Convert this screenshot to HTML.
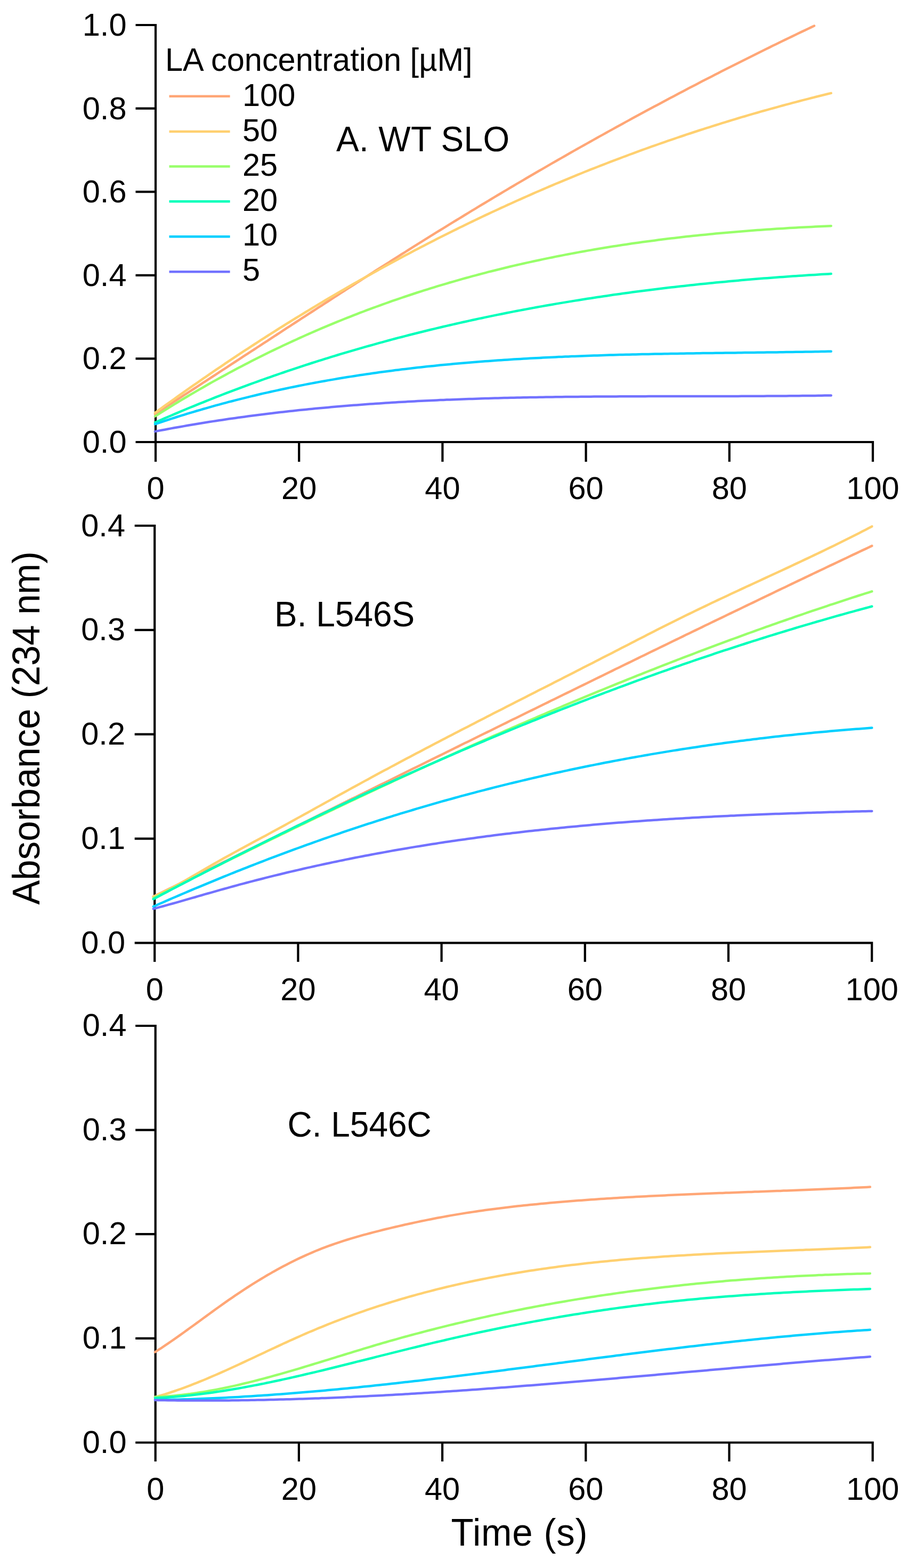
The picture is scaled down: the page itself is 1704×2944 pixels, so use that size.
<!DOCTYPE html>
<html><head><meta charset="utf-8"><title>Absorbance kinetics</title>
<style>
html,body{margin:0;padding:0;background:#fff;}
body{width:1704px;height:2944px;overflow:hidden;}
svg{display:block;}
.t{font-family:"Liberation Sans",sans-serif;font-size:59.5px;fill:#000;}
.h{font-family:"Liberation Sans",sans-serif;font-size:64px;fill:#000;}
.ax{font-family:"Liberation Sans",sans-serif;font-size:69px;fill:#000;}
</style></head>
<body>
<svg width="1704" height="2944" viewBox="0 0 1704 2944">
<rect width="1704" height="2944" fill="#fff"/>
<path d="M254.5,47.0 H292.0 V867.0" fill="none" stroke="#000" stroke-width="4.2" stroke-linejoin="miter"/>
<path d="M254.5,830.0 H1638.0 V867.0" fill="none" stroke="#000" stroke-width="4.2" stroke-linejoin="miter"/>
<path d="M254.5,203.6 H292.0" stroke="#000" stroke-width="4.2"/>
<path d="M254.5,360.2 H292.0" stroke="#000" stroke-width="4.2"/>
<path d="M254.5,516.8 H292.0" stroke="#000" stroke-width="4.2"/>
<path d="M254.5,673.4 H292.0" stroke="#000" stroke-width="4.2"/>
<path d="M561.2,830.0 V867.0" stroke="#000" stroke-width="4.2"/>
<path d="M830.4,830.0 V867.0" stroke="#000" stroke-width="4.2"/>
<path d="M1099.6,830.0 V867.0" stroke="#000" stroke-width="4.2"/>
<path d="M1368.8,830.0 V867.0" stroke="#000" stroke-width="4.2"/>
<text class="t" x="237.5" y="67.0" text-anchor="end">1.0</text>
<text class="t" x="237.5" y="223.6" text-anchor="end">0.8</text>
<text class="t" x="237.5" y="380.2" text-anchor="end">0.6</text>
<text class="t" x="237.5" y="536.8" text-anchor="end">0.4</text>
<text class="t" x="237.5" y="693.4" text-anchor="end">0.2</text>
<text class="t" x="237.5" y="850.0" text-anchor="end">0.0</text>
<text class="t" x="292.0" y="937.0" text-anchor="middle">0</text>
<text class="t" x="561.2" y="937.0" text-anchor="middle">20</text>
<text class="t" x="830.4" y="937.0" text-anchor="middle">40</text>
<text class="t" x="1099.6" y="937.0" text-anchor="middle">60</text>
<text class="t" x="1368.8" y="937.0" text-anchor="middle">80</text>
<text class="t" x="1638.0" y="937.0" text-anchor="middle">100</text>
<path d="M291.0,777.3 L297.0,773.4 L303.0,769.5 L309.0,765.6 L315.0,761.7 L321.0,757.8 L327.0,753.9 L333.0,750.0 L339.0,746.1 L345.0,742.2 L351.0,738.3 L357.1,734.4 L363.1,730.5 L369.1,726.6 L375.1,722.7 L381.1,718.7 L387.1,714.8 L393.1,710.9 L399.1,707.0 L405.1,703.1 L411.1,699.1 L417.1,695.2 L423.1,691.3 L429.1,687.4 L435.1,683.4 L441.1,679.5 L447.1,675.6 L453.1,671.7 L459.1,667.7 L465.1,663.8 L471.1,659.9 L477.2,656.0 L483.2,652.0 L489.2,648.1 L495.2,644.2 L501.2,640.3 L507.2,636.3 L513.2,632.4 L519.2,628.5 L525.2,624.6 L531.2,620.7 L537.2,616.7 L543.2,612.8 L549.2,608.9 L555.2,605.0 L561.2,601.1 L567.2,597.2 L573.2,593.3 L579.2,589.4 L585.2,585.5 L591.2,581.6 L597.2,577.7 L603.3,573.8 L609.3,569.9 L615.3,566.0 L621.3,562.1 L627.3,558.2 L633.3,554.3 L639.3,550.4 L645.3,546.6 L651.3,542.7 L657.3,538.8 L663.3,535.0 L669.3,531.1 L675.3,527.3 L681.3,523.4 L687.3,519.6 L693.3,515.7 L699.3,511.9 L705.3,508.0 L711.3,504.2 L717.3,500.4 L723.3,496.6 L729.4,492.8 L735.4,488.9 L741.4,485.1 L747.4,481.3 L753.4,477.5 L759.4,473.8 L765.4,470.0 L771.4,466.2 L777.4,462.4 L783.4,458.7 L789.4,454.9 L795.4,451.2 L801.4,447.4 L807.4,443.7 L813.4,439.9 L819.4,436.2 L825.4,432.5 L831.4,428.8 L837.4,425.1 L843.4,421.4 L849.5,417.7 L855.5,414.0 L861.5,410.3 L867.5,406.7 L873.5,403.0 L879.5,399.4 L885.5,395.7 L891.5,392.1 L897.5,388.4 L903.5,384.8 L909.5,381.2 L915.5,377.6 L921.5,374.0 L927.5,370.4 L933.5,366.8 L939.5,363.2 L945.5,359.6 L951.5,356.1 L957.5,352.5 L963.5,349.0 L969.5,345.4 L975.6,341.9 L981.6,338.4 L987.6,334.8 L993.6,331.3 L999.6,327.8 L1005.6,324.3 L1011.6,320.8 L1017.6,317.4 L1023.6,313.9 L1029.6,310.4 L1035.6,306.9 L1041.6,303.5 L1047.6,300.0 L1053.6,296.6 L1059.6,293.2 L1065.6,289.7 L1071.6,286.3 L1077.6,282.9 L1083.6,279.5 L1089.6,276.1 L1095.7,272.7 L1101.7,269.4 L1107.7,266.0 L1113.7,262.6 L1119.7,259.3 L1125.7,255.9 L1131.7,252.6 L1137.7,249.2 L1143.7,245.9 L1149.7,242.6 L1155.7,239.3 L1161.7,236.0 L1167.7,232.7 L1173.7,229.4 L1179.7,226.1 L1185.7,222.8 L1191.7,219.5 L1197.7,216.3 L1203.7,213.0 L1209.7,209.8 L1215.7,206.5 L1221.8,203.3 L1227.8,200.1 L1233.8,196.9 L1239.8,193.7 L1245.8,190.5 L1251.8,187.3 L1257.8,184.1 L1263.8,180.9 L1269.8,177.7 L1275.8,174.6 L1281.8,171.4 L1287.8,168.3 L1293.8,165.1 L1299.8,162.0 L1305.8,158.9 L1311.8,155.8 L1317.8,152.6 L1323.8,149.5 L1329.8,146.4 L1335.8,143.4 L1341.8,140.3 L1347.9,137.2 L1353.9,134.1 L1359.9,131.1 L1365.9,128.0 L1371.9,125.0 L1377.9,121.9 L1383.9,118.9 L1389.9,115.9 L1395.9,112.9 L1401.9,109.9 L1407.9,106.9 L1413.9,103.9 L1419.9,100.9 L1425.9,97.9 L1431.9,95.0 L1437.9,92.0 L1443.9,89.1 L1449.9,86.1 L1455.9,83.2 L1461.9,80.2 L1468.0,77.3 L1474.0,74.4 L1480.0,71.5 L1486.0,68.6 L1492.0,65.7 L1498.0,62.8 L1504.0,59.9 L1510.0,57.1 L1516.0,54.2 L1522.0,51.4 L1528.0,48.5" fill="none" stroke="#FFA676" stroke-width="4.5" stroke-linejoin="round" stroke-linecap="round"/>
<path d="M291.0,775.0 L297.0,770.6 L303.0,766.3 L309.0,761.9 L315.1,757.6 L321.1,753.3 L327.1,749.0 L333.1,744.7 L339.1,740.4 L345.1,736.1 L351.1,731.9 L357.1,727.7 L363.2,723.4 L369.2,719.3 L375.2,715.1 L381.2,710.9 L387.2,706.8 L393.2,702.6 L399.2,698.5 L405.2,694.4 L411.3,690.3 L417.3,686.3 L423.3,682.2 L429.3,678.2 L435.3,674.2 L441.3,670.2 L447.3,666.2 L453.3,662.2 L459.4,658.2 L465.4,654.3 L471.4,650.4 L477.4,646.5 L483.4,642.6 L489.4,638.7 L495.4,634.8 L501.4,631.0 L507.5,627.1 L513.5,623.3 L519.5,619.5 L525.5,615.7 L531.5,612.0 L537.5,608.2 L543.5,604.5 L549.6,600.7 L555.6,597.0 L561.6,593.3 L567.6,589.7 L573.6,586.0 L579.6,582.3 L585.6,578.7 L591.6,575.1 L597.7,571.5 L603.7,567.9 L609.7,564.3 L615.7,560.8 L621.7,557.2 L627.7,553.7 L633.7,550.2 L639.7,546.7 L645.8,543.2 L651.8,539.7 L657.8,536.3 L663.8,532.8 L669.8,529.4 L675.8,526.0 L681.8,522.6 L687.8,519.2 L693.9,515.9 L699.9,512.5 L705.9,509.2 L711.9,505.9 L717.9,502.6 L723.9,499.3 L729.9,496.0 L735.9,492.7 L742.0,489.5 L748.0,486.3 L754.0,483.0 L760.0,479.8 L766.0,476.7 L772.0,473.5 L778.0,470.3 L784.0,467.2 L790.1,464.0 L796.1,460.9 L802.1,457.8 L808.1,454.7 L814.1,451.7 L820.1,448.6 L826.1,445.6 L832.2,442.5 L838.2,439.5 L844.2,436.5 L850.2,433.5 L856.2,430.6 L862.2,427.6 L868.2,424.7 L874.2,421.7 L880.3,418.8 L886.3,415.9 L892.3,413.0 L898.3,410.1 L904.3,407.3 L910.3,404.4 L916.3,401.6 L922.3,398.8 L928.4,396.0 L934.4,393.2 L940.4,390.4 L946.4,387.7 L952.4,384.9 L958.4,382.2 L964.4,379.5 L970.4,376.7 L976.5,374.1 L982.5,371.4 L988.5,368.7 L994.5,366.1 L1000.5,363.4 L1006.5,360.8 L1012.5,358.2 L1018.5,355.6 L1024.6,353.0 L1030.6,350.4 L1036.6,347.9 L1042.6,345.3 L1048.6,342.8 L1054.6,340.3 L1060.6,337.8 L1066.7,335.3 L1072.7,332.8 L1078.7,330.4 L1084.7,327.9 L1090.7,325.5 L1096.7,323.0 L1102.7,320.6 L1108.7,318.2 L1114.8,315.9 L1120.8,313.5 L1126.8,311.1 L1132.8,308.8 L1138.8,306.5 L1144.8,304.1 L1150.8,301.8 L1156.8,299.6 L1162.9,297.3 L1168.9,295.0 L1174.9,292.8 L1180.9,290.5 L1186.9,288.3 L1192.9,286.1 L1198.9,283.9 L1204.9,281.7 L1211.0,279.5 L1217.0,277.4 L1223.0,275.2 L1229.0,273.1 L1235.0,271.0 L1241.0,268.9 L1247.0,266.8 L1253.0,264.7 L1259.1,262.6 L1265.1,260.6 L1271.1,258.5 L1277.1,256.5 L1283.1,254.5 L1289.1,252.4 L1295.1,250.5 L1301.1,248.5 L1307.2,246.5 L1313.2,244.5 L1319.2,242.6 L1325.2,240.7 L1331.2,238.8 L1337.2,236.8 L1343.2,235.0 L1349.3,233.1 L1355.3,231.2 L1361.3,229.3 L1367.3,227.5 L1373.3,225.7 L1379.3,223.8 L1385.3,222.0 L1391.3,220.2 L1397.4,218.5 L1403.4,216.7 L1409.4,214.9 L1415.4,213.2 L1421.4,211.5 L1427.4,209.7 L1433.4,208.0 L1439.4,206.3 L1445.5,204.6 L1451.5,203.0 L1457.5,201.3 L1463.5,199.7 L1469.5,198.0 L1475.5,196.4 L1481.5,194.8 L1487.5,193.2 L1493.6,191.6 L1499.6,190.0 L1505.6,188.4 L1511.6,186.9 L1517.6,185.3 L1523.6,183.8 L1529.6,182.3 L1535.6,180.8 L1541.7,179.3 L1547.7,177.8 L1553.7,176.3 L1559.7,174.9" fill="none" stroke="#FFD070" stroke-width="4.5" stroke-linejoin="round" stroke-linecap="round"/>
<path d="M291.0,781.7 L297.0,777.9 L303.0,774.1 L309.0,770.3 L315.1,766.6 L321.1,762.9 L327.1,759.2 L333.1,755.5 L339.1,751.9 L345.1,748.3 L351.1,744.7 L357.1,741.1 L363.2,737.6 L369.2,734.1 L375.2,730.6 L381.2,727.2 L387.2,723.7 L393.2,720.3 L399.2,716.9 L405.2,713.6 L411.3,710.3 L417.3,707.0 L423.3,703.7 L429.3,700.4 L435.3,697.2 L441.3,694.0 L447.3,690.8 L453.3,687.7 L459.4,684.5 L465.4,681.4 L471.4,678.3 L477.4,675.3 L483.4,672.2 L489.4,669.2 L495.4,666.2 L501.4,663.3 L507.5,660.3 L513.5,657.4 L519.5,654.5 L525.5,651.7 L531.5,648.8 L537.5,646.0 L543.5,643.2 L549.6,640.4 L555.6,637.7 L561.6,634.9 L567.6,632.2 L573.6,629.5 L579.6,626.9 L585.6,624.2 L591.6,621.6 L597.7,619.0 L603.7,616.4 L609.7,613.9 L615.7,611.4 L621.7,608.9 L627.7,606.4 L633.7,603.9 L639.7,601.5 L645.8,599.0 L651.8,596.6 L657.8,594.3 L663.8,591.9 L669.8,589.6 L675.8,587.2 L681.8,585.0 L687.8,582.7 L693.9,580.4 L699.9,578.2 L705.9,576.0 L711.9,573.8 L717.9,571.6 L723.9,569.5 L729.9,567.3 L735.9,565.2 L742.0,563.1 L748.0,561.1 L754.0,559.0 L760.0,557.0 L766.0,555.0 L772.0,553.0 L778.0,551.0 L784.0,549.0 L790.1,547.1 L796.1,545.2 L802.1,543.3 L808.1,541.4 L814.1,539.6 L820.1,537.7 L826.1,535.9 L832.2,534.1 L838.2,532.3 L844.2,530.5 L850.2,528.8 L856.2,527.1 L862.2,525.4 L868.2,523.7 L874.2,522.0 L880.3,520.3 L886.3,518.7 L892.3,517.1 L898.3,515.5 L904.3,513.9 L910.3,512.3 L916.3,510.7 L922.3,509.2 L928.4,507.7 L934.4,506.2 L940.4,504.7 L946.4,503.2 L952.4,501.8 L958.4,500.3 L964.4,498.9 L970.4,497.5 L976.5,496.1 L982.5,494.8 L988.5,493.4 L994.5,492.1 L1000.5,490.8 L1006.5,489.5 L1012.5,488.2 L1018.5,486.9 L1024.6,485.6 L1030.6,484.4 L1036.6,483.2 L1042.6,481.9 L1048.6,480.7 L1054.6,479.6 L1060.6,478.4 L1066.7,477.2 L1072.7,476.1 L1078.7,475.0 L1084.7,473.9 L1090.7,472.8 L1096.7,471.7 L1102.7,470.6 L1108.7,469.6 L1114.8,468.5 L1120.8,467.5 L1126.8,466.5 L1132.8,465.5 L1138.8,464.5 L1144.8,463.5 L1150.8,462.6 L1156.8,461.7 L1162.9,460.7 L1168.9,459.8 L1174.9,458.9 L1180.9,458.0 L1186.9,457.1 L1192.9,456.3 L1198.9,455.4 L1204.9,454.6 L1211.0,453.8 L1217.0,453.0 L1223.0,452.2 L1229.0,451.4 L1235.0,450.6 L1241.0,449.8 L1247.0,449.1 L1253.0,448.3 L1259.1,447.6 L1265.1,446.9 L1271.1,446.2 L1277.1,445.5 L1283.1,444.8 L1289.1,444.1 L1295.1,443.5 L1301.1,442.8 L1307.2,442.2 L1313.2,441.6 L1319.2,441.0 L1325.2,440.4 L1331.2,439.8 L1337.2,439.2 L1343.2,438.6 L1349.3,438.0 L1355.3,437.5 L1361.3,437.0 L1367.3,436.4 L1373.3,435.9 L1379.3,435.4 L1385.3,434.9 L1391.3,434.4 L1397.4,433.9 L1403.4,433.4 L1409.4,433.0 L1415.4,432.5 L1421.4,432.1 L1427.4,431.7 L1433.4,431.2 L1439.4,430.8 L1445.5,430.4 L1451.5,430.0 L1457.5,429.6 L1463.5,429.2 L1469.5,428.9 L1475.5,428.5 L1481.5,428.1 L1487.5,427.8 L1493.6,427.5 L1499.6,427.1 L1505.6,426.8 L1511.6,426.5 L1517.6,426.2 L1523.6,425.9 L1529.6,425.6 L1535.6,425.3 L1541.7,425.0 L1547.7,424.7 L1553.7,424.5 L1559.7,424.2" fill="none" stroke="#98FF6A" stroke-width="4.5" stroke-linejoin="round" stroke-linecap="round"/>
<path d="M291.0,793.2 L297.0,790.6 L303.0,788.0 L309.0,785.4 L315.1,782.8 L321.1,780.2 L327.1,777.6 L333.1,775.1 L339.1,772.5 L345.1,770.0 L351.1,767.5 L357.1,765.0 L363.2,762.6 L369.2,760.1 L375.2,757.7 L381.2,755.3 L387.2,752.9 L393.2,750.5 L399.2,748.1 L405.2,745.7 L411.3,743.4 L417.3,741.0 L423.3,738.7 L429.3,736.4 L435.3,734.1 L441.3,731.8 L447.3,729.6 L453.3,727.3 L459.4,725.1 L465.4,722.9 L471.4,720.7 L477.4,718.5 L483.4,716.3 L489.4,714.2 L495.4,712.0 L501.4,709.9 L507.5,707.8 L513.5,705.7 L519.5,703.6 L525.5,701.5 L531.5,699.5 L537.5,697.4 L543.5,695.4 L549.6,693.4 L555.6,691.4 L561.6,689.4 L567.6,687.4 L573.6,685.4 L579.6,683.5 L585.6,681.5 L591.6,679.6 L597.7,677.7 L603.7,675.8 L609.7,673.9 L615.7,672.1 L621.7,670.2 L627.7,668.4 L633.7,666.5 L639.7,664.7 L645.8,662.9 L651.8,661.1 L657.8,659.3 L663.8,657.6 L669.8,655.8 L675.8,654.1 L681.8,652.4 L687.8,650.7 L693.9,649.0 L699.9,647.3 L705.9,645.6 L711.9,643.9 L717.9,642.3 L723.9,640.6 L729.9,639.0 L735.9,637.4 L742.0,635.8 L748.0,634.2 L754.0,632.7 L760.0,631.1 L766.0,629.5 L772.0,628.0 L778.0,626.5 L784.0,625.0 L790.1,623.5 L796.1,622.0 L802.1,620.5 L808.1,619.0 L814.1,617.6 L820.1,616.1 L826.1,614.7 L832.2,613.3 L838.2,611.9 L844.2,610.5 L850.2,609.1 L856.2,607.7 L862.2,606.4 L868.2,605.0 L874.2,603.7 L880.3,602.4 L886.3,601.0 L892.3,599.7 L898.3,598.4 L904.3,597.2 L910.3,595.9 L916.3,594.6 L922.3,593.4 L928.4,592.1 L934.4,590.9 L940.4,589.7 L946.4,588.5 L952.4,587.3 L958.4,586.1 L964.4,584.9 L970.4,583.8 L976.5,582.6 L982.5,581.5 L988.5,580.4 L994.5,579.2 L1000.5,578.1 L1006.5,577.0 L1012.5,575.9 L1018.5,574.9 L1024.6,573.8 L1030.6,572.7 L1036.6,571.7 L1042.6,570.6 L1048.6,569.6 L1054.6,568.6 L1060.6,567.6 L1066.7,566.6 L1072.7,565.6 L1078.7,564.6 L1084.7,563.7 L1090.7,562.7 L1096.7,561.8 L1102.7,560.8 L1108.7,559.9 L1114.8,559.0 L1120.8,558.1 L1126.8,557.2 L1132.8,556.3 L1138.8,555.4 L1144.8,554.5 L1150.8,553.6 L1156.8,552.8 L1162.9,551.9 L1168.9,551.1 L1174.9,550.3 L1180.9,549.5 L1186.9,548.6 L1192.9,547.8 L1198.9,547.1 L1204.9,546.3 L1211.0,545.5 L1217.0,544.7 L1223.0,544.0 L1229.0,543.2 L1235.0,542.5 L1241.0,541.8 L1247.0,541.0 L1253.0,540.3 L1259.1,539.6 L1265.1,538.9 L1271.1,538.2 L1277.1,537.6 L1283.1,536.9 L1289.1,536.2 L1295.1,535.6 L1301.1,534.9 L1307.2,534.3 L1313.2,533.6 L1319.2,533.0 L1325.2,532.4 L1331.2,531.8 L1337.2,531.2 L1343.2,530.6 L1349.3,530.0 L1355.3,529.4 L1361.3,528.9 L1367.3,528.3 L1373.3,527.8 L1379.3,527.2 L1385.3,526.7 L1391.3,526.1 L1397.4,525.6 L1403.4,525.1 L1409.4,524.6 L1415.4,524.1 L1421.4,523.6 L1427.4,523.1 L1433.4,522.6 L1439.4,522.2 L1445.5,521.7 L1451.5,521.2 L1457.5,520.8 L1463.5,520.3 L1469.5,519.9 L1475.5,519.5 L1481.5,519.0 L1487.5,518.6 L1493.6,518.2 L1499.6,517.8 L1505.6,517.4 L1511.6,517.0 L1517.6,516.6 L1523.6,516.2 L1529.6,515.9 L1535.6,515.5 L1541.7,515.1 L1547.7,514.8 L1553.7,514.4 L1559.7,514.1" fill="none" stroke="#00FFBB" stroke-width="4.5" stroke-linejoin="round" stroke-linecap="round"/>
<path d="M291.0,796.3 L297.0,794.3 L303.0,792.3 L309.0,790.3 L315.1,788.3 L321.1,786.4 L327.1,784.5 L333.1,782.5 L339.1,780.7 L345.1,778.8 L351.1,776.9 L357.1,775.1 L363.2,773.3 L369.2,771.5 L375.2,769.8 L381.2,768.0 L387.2,766.3 L393.2,764.6 L399.2,762.9 L405.2,761.2 L411.3,759.6 L417.3,757.9 L423.3,756.3 L429.3,754.7 L435.3,753.2 L441.3,751.6 L447.3,750.1 L453.3,748.6 L459.4,747.1 L465.4,745.6 L471.4,744.1 L477.4,742.7 L483.4,741.2 L489.4,739.8 L495.4,738.4 L501.4,737.1 L507.5,735.7 L513.5,734.4 L519.5,733.1 L525.5,731.7 L531.5,730.5 L537.5,729.2 L543.5,727.9 L549.6,726.7 L555.6,725.5 L561.6,724.3 L567.6,723.1 L573.6,721.9 L579.6,720.7 L585.6,719.6 L591.6,718.5 L597.7,717.4 L603.7,716.3 L609.7,715.2 L615.7,714.1 L621.7,713.1 L627.7,712.1 L633.7,711.0 L639.7,710.0 L645.8,709.0 L651.8,708.1 L657.8,707.1 L663.8,706.2 L669.8,705.2 L675.8,704.3 L681.8,703.4 L687.8,702.5 L693.9,701.7 L699.9,700.8 L705.9,699.9 L711.9,699.1 L717.9,698.3 L723.9,697.5 L729.9,696.7 L735.9,695.9 L742.0,695.1 L748.0,694.4 L754.0,693.6 L760.0,692.9 L766.0,692.2 L772.0,691.5 L778.0,690.8 L784.0,690.1 L790.1,689.4 L796.1,688.8 L802.1,688.1 L808.1,687.5 L814.1,686.9 L820.1,686.2 L826.1,685.6 L832.2,685.0 L838.2,684.5 L844.2,683.9 L850.2,683.3 L856.2,682.8 L862.2,682.3 L868.2,681.7 L874.2,681.2 L880.3,680.7 L886.3,680.2 L892.3,679.7 L898.3,679.2 L904.3,678.8 L910.3,678.3 L916.3,677.9 L922.3,677.4 L928.4,677.0 L934.4,676.6 L940.4,676.2 L946.4,675.8 L952.4,675.4 L958.4,675.0 L964.4,674.6 L970.4,674.2 L976.5,673.9 L982.5,673.5 L988.5,673.2 L994.5,672.8 L1000.5,672.5 L1006.5,672.2 L1012.5,671.9 L1018.5,671.6 L1024.6,671.3 L1030.6,671.0 L1036.6,670.7 L1042.6,670.4 L1048.6,670.1 L1054.6,669.9 L1060.6,669.6 L1066.7,669.4 L1072.7,669.1 L1078.7,668.9 L1084.7,668.7 L1090.7,668.4 L1096.7,668.2 L1102.7,668.0 L1108.7,667.8 L1114.8,667.6 L1120.8,667.4 L1126.8,667.2 L1132.8,667.0 L1138.8,666.8 L1144.8,666.6 L1150.8,666.5 L1156.8,666.3 L1162.9,666.1 L1168.9,666.0 L1174.9,665.8 L1180.9,665.7 L1186.9,665.5 L1192.9,665.4 L1198.9,665.2 L1204.9,665.1 L1211.0,665.0 L1217.0,664.9 L1223.0,664.7 L1229.0,664.6 L1235.0,664.5 L1241.0,664.4 L1247.0,664.3 L1253.0,664.2 L1259.1,664.1 L1265.1,664.0 L1271.1,663.9 L1277.1,663.8 L1283.1,663.7 L1289.1,663.6 L1295.1,663.5 L1301.1,663.4 L1307.2,663.3 L1313.2,663.2 L1319.2,663.1 L1325.2,663.0 L1331.2,663.0 L1337.2,662.9 L1343.2,662.8 L1349.3,662.7 L1355.3,662.7 L1361.3,662.6 L1367.3,662.5 L1373.3,662.4 L1379.3,662.4 L1385.3,662.3 L1391.3,662.2 L1397.4,662.1 L1403.4,662.1 L1409.4,662.0 L1415.4,661.9 L1421.4,661.8 L1427.4,661.8 L1433.4,661.7 L1439.4,661.6 L1445.5,661.5 L1451.5,661.4 L1457.5,661.4 L1463.5,661.3 L1469.5,661.2 L1475.5,661.1 L1481.5,661.0 L1487.5,660.9 L1493.6,660.8 L1499.6,660.8 L1505.6,660.7 L1511.6,660.6 L1517.6,660.5 L1523.6,660.4 L1529.6,660.3 L1535.6,660.2 L1541.7,660.1 L1547.7,659.9 L1553.7,659.8 L1559.7,659.7" fill="none" stroke="#00D0FF" stroke-width="4.5" stroke-linejoin="round" stroke-linecap="round"/>
<path d="M291.0,810.1 L297.0,808.9 L303.0,807.8 L309.0,806.7 L315.1,805.5 L321.1,804.4 L327.1,803.3 L333.1,802.2 L339.1,801.2 L345.1,800.1 L351.1,799.0 L357.1,798.0 L363.2,797.0 L369.2,796.0 L375.2,795.0 L381.2,794.0 L387.2,793.0 L393.2,792.1 L399.2,791.1 L405.2,790.2 L411.3,789.3 L417.3,788.4 L423.3,787.5 L429.3,786.6 L435.3,785.7 L441.3,784.9 L447.3,784.0 L453.3,783.2 L459.4,782.4 L465.4,781.6 L471.4,780.8 L477.4,780.0 L483.4,779.2 L489.4,778.5 L495.4,777.7 L501.4,777.0 L507.5,776.2 L513.5,775.5 L519.5,774.8 L525.5,774.1 L531.5,773.4 L537.5,772.7 L543.5,772.1 L549.6,771.4 L555.6,770.8 L561.6,770.1 L567.6,769.5 L573.6,768.9 L579.6,768.3 L585.6,767.7 L591.6,767.1 L597.7,766.5 L603.7,766.0 L609.7,765.4 L615.7,764.9 L621.7,764.3 L627.7,763.8 L633.7,763.3 L639.7,762.8 L645.8,762.3 L651.8,761.8 L657.8,761.3 L663.8,760.8 L669.8,760.4 L675.8,759.9 L681.8,759.5 L687.8,759.0 L693.9,758.6 L699.9,758.2 L705.9,757.8 L711.9,757.4 L717.9,757.0 L723.9,756.6 L729.9,756.2 L735.9,755.8 L742.0,755.5 L748.0,755.1 L754.0,754.8 L760.0,754.4 L766.0,754.1 L772.0,753.8 L778.0,753.5 L784.0,753.1 L790.1,752.8 L796.1,752.5 L802.1,752.2 L808.1,752.0 L814.1,751.7 L820.1,751.4 L826.1,751.1 L832.2,750.9 L838.2,750.6 L844.2,750.4 L850.2,750.2 L856.2,749.9 L862.2,749.7 L868.2,749.5 L874.2,749.3 L880.3,749.1 L886.3,748.9 L892.3,748.7 L898.3,748.5 L904.3,748.3 L910.3,748.1 L916.3,747.9 L922.3,747.8 L928.4,747.6 L934.4,747.4 L940.4,747.3 L946.4,747.1 L952.4,747.0 L958.4,746.8 L964.4,746.7 L970.4,746.6 L976.5,746.5 L982.5,746.3 L988.5,746.2 L994.5,746.1 L1000.5,746.0 L1006.5,745.9 L1012.5,745.8 L1018.5,745.7 L1024.6,745.6 L1030.6,745.5 L1036.6,745.4 L1042.6,745.3 L1048.6,745.3 L1054.6,745.2 L1060.6,745.1 L1066.7,745.0 L1072.7,745.0 L1078.7,744.9 L1084.7,744.9 L1090.7,744.8 L1096.7,744.8 L1102.7,744.7 L1108.7,744.7 L1114.8,744.6 L1120.8,744.6 L1126.8,744.5 L1132.8,744.5 L1138.8,744.4 L1144.8,744.4 L1150.8,744.4 L1156.8,744.4 L1162.9,744.3 L1168.9,744.3 L1174.9,744.3 L1180.9,744.3 L1186.9,744.2 L1192.9,744.2 L1198.9,744.2 L1204.9,744.2 L1211.0,744.2 L1217.0,744.1 L1223.0,744.1 L1229.0,744.1 L1235.0,744.1 L1241.0,744.1 L1247.0,744.1 L1253.0,744.1 L1259.1,744.1 L1265.1,744.1 L1271.1,744.0 L1277.1,744.0 L1283.1,744.0 L1289.1,744.0 L1295.1,744.0 L1301.1,744.0 L1307.2,744.0 L1313.2,744.0 L1319.2,744.0 L1325.2,744.0 L1331.2,744.0 L1337.2,744.0 L1343.2,744.0 L1349.3,743.9 L1355.3,743.9 L1361.3,743.9 L1367.3,743.9 L1373.3,743.9 L1379.3,743.9 L1385.3,743.9 L1391.3,743.8 L1397.4,743.8 L1403.4,743.8 L1409.4,743.8 L1415.4,743.7 L1421.4,743.7 L1427.4,743.7 L1433.4,743.7 L1439.4,743.6 L1445.5,743.6 L1451.5,743.6 L1457.5,743.5 L1463.5,743.5 L1469.5,743.4 L1475.5,743.4 L1481.5,743.3 L1487.5,743.3 L1493.6,743.2 L1499.6,743.2 L1505.6,743.1 L1511.6,743.1 L1517.6,743.0 L1523.6,742.9 L1529.6,742.9 L1535.6,742.8 L1541.7,742.7 L1547.7,742.6 L1553.7,742.5 L1559.7,742.5" fill="none" stroke="#7272FF" stroke-width="4.5" stroke-linejoin="round" stroke-linecap="round"/>
<path d="M252.7,987.0 H290.2 V1805.9" fill="none" stroke="#000" stroke-width="4.2" stroke-linejoin="miter"/>
<path d="M252.7,1770.4 H1636.2 V1805.9" fill="none" stroke="#000" stroke-width="4.2" stroke-linejoin="miter"/>
<path d="M252.7,1182.8 H290.2" stroke="#000" stroke-width="4.2"/>
<path d="M252.7,1378.7 H290.2" stroke="#000" stroke-width="4.2"/>
<path d="M252.7,1574.6 H290.2" stroke="#000" stroke-width="4.2"/>
<path d="M559.4,1770.4 V1805.9" stroke="#000" stroke-width="4.2"/>
<path d="M828.6,1770.4 V1805.9" stroke="#000" stroke-width="4.2"/>
<path d="M1097.8,1770.4 V1805.9" stroke="#000" stroke-width="4.2"/>
<path d="M1367.0,1770.4 V1805.9" stroke="#000" stroke-width="4.2"/>
<text class="t" x="235" y="1006.5" text-anchor="end">0.4</text>
<text class="t" x="235" y="1202.3" text-anchor="end">0.3</text>
<text class="t" x="235" y="1398.2" text-anchor="end">0.2</text>
<text class="t" x="235" y="1594.1" text-anchor="end">0.1</text>
<text class="t" x="235" y="1789.9" text-anchor="end">0.0</text>
<text class="t" x="290.2" y="1878.4" text-anchor="middle">0</text>
<text class="t" x="559.4" y="1878.4" text-anchor="middle">20</text>
<text class="t" x="828.6" y="1878.4" text-anchor="middle">40</text>
<text class="t" x="1097.8" y="1878.4" text-anchor="middle">60</text>
<text class="t" x="1367.0" y="1878.4" text-anchor="middle">80</text>
<text class="t" x="1636.2" y="1878.4" text-anchor="middle">100</text>
<path d="M287.8,1683.3 L293.8,1680.4 L299.8,1677.5 L305.9,1674.5 L311.9,1671.6 L317.9,1668.6 L323.9,1665.7 L329.9,1662.7 L336.0,1659.7 L342.0,1656.8 L348.0,1653.8 L354.0,1650.9 L360.0,1647.9 L366.1,1645.0 L372.1,1642.0 L378.1,1639.1 L384.1,1636.1 L390.1,1633.1 L396.2,1630.2 L402.2,1627.2 L408.2,1624.3 L414.2,1621.3 L420.2,1618.4 L426.3,1615.4 L432.3,1612.4 L438.3,1609.5 L444.3,1606.5 L450.3,1603.5 L456.4,1600.6 L462.4,1597.6 L468.4,1594.6 L474.4,1591.7 L480.4,1588.7 L486.5,1585.8 L492.5,1582.8 L498.5,1579.8 L504.5,1576.9 L510.5,1573.9 L516.6,1570.9 L522.6,1568.0 L528.6,1565.0 L534.6,1562.0 L540.6,1559.0 L546.7,1556.1 L552.7,1553.1 L558.7,1550.1 L564.7,1547.2 L570.7,1544.2 L576.8,1541.2 L582.8,1538.3 L588.8,1535.3 L594.8,1532.3 L600.8,1529.3 L606.9,1526.4 L612.9,1523.4 L618.9,1520.4 L624.9,1517.5 L630.9,1514.5 L637.0,1511.5 L643.0,1508.5 L649.0,1505.6 L655.0,1502.6 L661.0,1499.6 L667.1,1496.7 L673.1,1493.7 L679.1,1490.7 L685.1,1487.7 L691.1,1484.8 L697.2,1481.8 L703.2,1478.8 L709.2,1475.8 L715.2,1472.9 L721.2,1469.9 L727.3,1466.9 L733.3,1464.0 L739.3,1461.0 L745.3,1458.0 L751.3,1455.0 L757.4,1452.1 L763.4,1449.1 L769.4,1446.1 L775.4,1443.1 L781.4,1440.2 L787.5,1437.2 L793.5,1434.2 L799.5,1431.3 L805.5,1428.3 L811.5,1425.3 L817.6,1422.3 L823.6,1419.4 L829.6,1416.4 L835.6,1413.4 L841.6,1410.5 L847.7,1407.5 L853.7,1404.5 L859.7,1401.6 L865.7,1398.6 L871.7,1395.6 L877.8,1392.7 L883.8,1389.7 L889.8,1386.7 L895.8,1383.8 L901.8,1380.8 L907.9,1377.8 L913.9,1374.9 L919.9,1371.9 L925.9,1368.9 L931.9,1366.0 L938.0,1363.0 L944.0,1360.0 L950.0,1357.1 L956.0,1354.1 L962.0,1351.1 L968.1,1348.2 L974.1,1345.2 L980.1,1342.3 L986.1,1339.3 L992.2,1336.3 L998.2,1333.4 L1004.2,1330.4 L1010.2,1327.5 L1016.2,1324.5 L1022.3,1321.5 L1028.3,1318.6 L1034.3,1315.6 L1040.3,1312.7 L1046.3,1309.7 L1052.4,1306.8 L1058.4,1303.8 L1064.4,1300.9 L1070.4,1297.9 L1076.4,1295.0 L1082.5,1292.0 L1088.5,1289.0 L1094.5,1286.1 L1100.5,1283.2 L1106.5,1280.2 L1112.6,1277.3 L1118.6,1274.3 L1124.6,1271.4 L1130.6,1268.4 L1136.6,1265.5 L1142.7,1262.5 L1148.7,1259.6 L1154.7,1256.6 L1160.7,1253.7 L1166.7,1250.8 L1172.8,1247.8 L1178.8,1244.9 L1184.8,1241.9 L1190.8,1239.0 L1196.8,1236.1 L1202.9,1233.1 L1208.9,1230.2 L1214.9,1227.3 L1220.9,1224.3 L1226.9,1221.4 L1233.0,1218.5 L1239.0,1215.5 L1245.0,1212.6 L1251.0,1209.7 L1257.0,1206.8 L1263.1,1203.8 L1269.1,1200.9 L1275.1,1198.0 L1281.1,1195.1 L1287.1,1192.1 L1293.2,1189.2 L1299.2,1186.3 L1305.2,1183.4 L1311.2,1180.5 L1317.2,1177.6 L1323.3,1174.6 L1329.3,1171.7 L1335.3,1168.8 L1341.3,1165.9 L1347.3,1163.0 L1353.4,1160.1 L1359.4,1157.2 L1365.4,1154.3 L1371.4,1151.4 L1377.4,1148.5 L1383.5,1145.6 L1389.5,1142.7 L1395.5,1139.8 L1401.5,1136.9 L1407.5,1134.0 L1413.6,1131.1 L1419.6,1128.2 L1425.6,1125.3 L1431.6,1122.4 L1437.6,1119.5 L1443.7,1116.6 L1449.7,1113.7 L1455.7,1110.8 L1461.7,1107.9 L1467.7,1105.0 L1473.8,1102.2 L1479.8,1099.3 L1485.8,1096.4 L1491.8,1093.5 L1497.8,1090.6 L1503.9,1087.8 L1509.9,1084.9 L1515.9,1082.0 L1521.9,1079.1 L1527.9,1076.3 L1534.0,1073.4 L1540.0,1070.5 L1546.0,1067.7 L1552.0,1064.8 L1558.0,1061.9 L1564.1,1059.1 L1570.1,1056.2 L1576.1,1053.4 L1582.1,1050.5 L1588.1,1047.7 L1594.2,1044.8 L1600.2,1041.9 L1606.2,1039.1 L1612.2,1036.2 L1618.2,1033.4 L1624.3,1030.6 L1630.3,1027.7 L1636.3,1024.9" fill="none" stroke="#FFA676" stroke-width="4.5" stroke-linejoin="round" stroke-linecap="round"/>
<path d="M287.8,1683.3 L293.8,1680.7 L299.8,1678.1 L305.9,1675.2 L311.9,1672.3 L317.9,1669.3 L323.9,1666.2 L329.9,1663.0 L336.0,1659.7 L342.0,1656.3 L348.0,1652.9 L354.0,1649.4 L360.0,1646.0 L366.1,1642.4 L372.1,1638.9 L378.1,1635.4 L384.1,1631.9 L390.1,1628.4 L396.2,1624.9 L402.2,1621.5 L408.2,1618.1 L414.2,1614.7 L420.2,1611.3 L426.3,1608.0 L432.3,1604.7 L438.3,1601.4 L444.3,1598.1 L450.3,1594.8 L456.4,1591.6 L462.4,1588.3 L468.4,1585.1 L474.4,1581.8 L480.4,1578.6 L486.5,1575.3 L492.5,1572.1 L498.5,1568.9 L504.5,1565.6 L510.5,1562.3 L516.6,1559.1 L522.6,1555.8 L528.6,1552.5 L534.6,1549.2 L540.6,1545.9 L546.7,1542.6 L552.7,1539.3 L558.7,1535.9 L564.7,1532.6 L570.7,1529.3 L576.8,1526.0 L582.8,1522.6 L588.8,1519.3 L594.8,1515.9 L600.8,1512.6 L606.9,1509.3 L612.9,1505.9 L618.9,1502.6 L624.9,1499.3 L630.9,1495.9 L637.0,1492.6 L643.0,1489.3 L649.0,1486.0 L655.0,1482.6 L661.0,1479.3 L667.1,1476.0 L673.1,1472.7 L679.1,1469.4 L685.1,1466.1 L691.1,1462.9 L697.2,1459.6 L703.2,1456.3 L709.2,1453.1 L715.2,1449.8 L721.2,1446.6 L727.3,1443.4 L733.3,1440.1 L739.3,1436.9 L745.3,1433.7 L751.3,1430.5 L757.4,1427.3 L763.4,1424.1 L769.4,1420.9 L775.4,1417.7 L781.4,1414.6 L787.5,1411.4 L793.5,1408.2 L799.5,1405.1 L805.5,1401.9 L811.5,1398.7 L817.6,1395.6 L823.6,1392.5 L829.6,1389.3 L835.6,1386.2 L841.6,1383.1 L847.7,1379.9 L853.7,1376.8 L859.7,1373.7 L865.7,1370.6 L871.7,1367.5 L877.8,1364.4 L883.8,1361.3 L889.8,1358.2 L895.8,1355.1 L901.8,1352.0 L907.9,1348.9 L913.9,1345.8 L919.9,1342.7 L925.9,1339.6 L931.9,1336.6 L938.0,1333.5 L944.0,1330.4 L950.0,1327.3 L956.0,1324.3 L962.0,1321.2 L968.1,1318.1 L974.1,1315.0 L980.1,1312.0 L986.1,1308.9 L992.2,1305.8 L998.2,1302.8 L1004.2,1299.7 L1010.2,1296.6 L1016.2,1293.6 L1022.3,1290.5 L1028.3,1287.4 L1034.3,1284.4 L1040.3,1281.3 L1046.3,1278.2 L1052.4,1275.2 L1058.4,1272.1 L1064.4,1269.0 L1070.4,1265.9 L1076.4,1262.9 L1082.5,1259.8 L1088.5,1256.7 L1094.5,1253.6 L1100.5,1250.6 L1106.5,1247.5 L1112.6,1244.4 L1118.6,1241.3 L1124.6,1238.2 L1130.6,1235.1 L1136.6,1232.0 L1142.7,1229.0 L1148.7,1225.9 L1154.7,1222.8 L1160.7,1219.7 L1166.7,1216.6 L1172.8,1213.5 L1178.8,1210.4 L1184.8,1207.3 L1190.8,1204.2 L1196.8,1201.1 L1202.9,1198.0 L1208.9,1194.9 L1214.9,1191.8 L1220.9,1188.7 L1226.9,1185.7 L1233.0,1182.6 L1239.0,1179.6 L1245.0,1176.5 L1251.0,1173.5 L1257.0,1170.5 L1263.1,1167.5 L1269.1,1164.5 L1275.1,1161.5 L1281.1,1158.5 L1287.1,1155.5 L1293.2,1152.6 L1299.2,1149.7 L1305.2,1146.8 L1311.2,1143.9 L1317.2,1141.0 L1323.3,1138.1 L1329.3,1135.2 L1335.3,1132.3 L1341.3,1129.5 L1347.3,1126.6 L1353.4,1123.8 L1359.4,1121.0 L1365.4,1118.2 L1371.4,1115.3 L1377.4,1112.5 L1383.5,1109.7 L1389.5,1106.9 L1395.5,1104.1 L1401.5,1101.3 L1407.5,1098.6 L1413.6,1095.8 L1419.6,1093.0 L1425.6,1090.2 L1431.6,1087.4 L1437.6,1084.6 L1443.7,1081.8 L1449.7,1079.0 L1455.7,1076.3 L1461.7,1073.5 L1467.7,1070.7 L1473.8,1067.9 L1479.8,1065.1 L1485.8,1062.2 L1491.8,1059.4 L1497.8,1056.6 L1503.9,1053.8 L1509.9,1050.9 L1515.9,1048.1 L1521.9,1045.2 L1527.9,1042.4 L1534.0,1039.5 L1540.0,1036.6 L1546.0,1033.7 L1552.0,1030.8 L1558.0,1027.9 L1564.1,1024.9 L1570.1,1022.0 L1576.1,1019.0 L1582.1,1016.0 L1588.1,1013.0 L1594.2,1010.0 L1600.2,1007.0 L1606.2,1003.9 L1612.2,1000.9 L1618.2,997.8 L1624.3,994.7 L1630.3,991.5 L1636.3,988.4" fill="none" stroke="#FFD070" stroke-width="4.5" stroke-linejoin="round" stroke-linecap="round"/>
<path d="M287.8,1686.3 L293.8,1683.2 L299.8,1680.2 L305.9,1677.1 L311.9,1674.1 L317.9,1671.1 L323.9,1668.0 L329.9,1665.0 L336.0,1661.9 L342.0,1658.9 L348.0,1655.9 L354.0,1652.9 L360.0,1649.8 L366.1,1646.8 L372.1,1643.8 L378.1,1640.8 L384.1,1637.8 L390.1,1634.8 L396.2,1631.8 L402.2,1628.8 L408.2,1625.8 L414.2,1622.8 L420.2,1619.8 L426.3,1616.8 L432.3,1613.8 L438.3,1610.8 L444.3,1607.9 L450.3,1604.9 L456.4,1601.9 L462.4,1598.9 L468.4,1596.0 L474.4,1593.0 L480.4,1590.1 L486.5,1587.1 L492.5,1584.1 L498.5,1581.2 L504.5,1578.3 L510.5,1575.3 L516.6,1572.4 L522.6,1569.4 L528.6,1566.5 L534.6,1563.6 L540.6,1560.7 L546.7,1557.7 L552.7,1554.8 L558.7,1551.9 L564.7,1549.0 L570.7,1546.1 L576.8,1543.2 L582.8,1540.3 L588.8,1537.4 L594.8,1534.5 L600.8,1531.6 L606.9,1528.7 L612.9,1525.9 L618.9,1523.0 L624.9,1520.1 L630.9,1517.2 L637.0,1514.4 L643.0,1511.5 L649.0,1508.7 L655.0,1505.8 L661.0,1503.0 L667.1,1500.1 L673.1,1497.3 L679.1,1494.4 L685.1,1491.6 L691.1,1488.8 L697.2,1486.0 L703.2,1483.1 L709.2,1480.3 L715.2,1477.5 L721.2,1474.7 L727.3,1471.9 L733.3,1469.1 L739.3,1466.3 L745.3,1463.5 L751.3,1460.7 L757.4,1457.9 L763.4,1455.2 L769.4,1452.4 L775.4,1449.6 L781.4,1446.9 L787.5,1444.1 L793.5,1441.4 L799.5,1438.6 L805.5,1435.9 L811.5,1433.1 L817.6,1430.4 L823.6,1427.7 L829.6,1424.9 L835.6,1422.2 L841.6,1419.5 L847.7,1416.8 L853.7,1414.1 L859.7,1411.4 L865.7,1408.7 L871.7,1406.0 L877.8,1403.3 L883.8,1400.6 L889.8,1397.9 L895.8,1395.2 L901.8,1392.6 L907.9,1389.9 L913.9,1387.2 L919.9,1384.6 L925.9,1381.9 L931.9,1379.3 L938.0,1376.7 L944.0,1374.0 L950.0,1371.4 L956.0,1368.8 L962.0,1366.1 L968.1,1363.5 L974.1,1360.9 L980.1,1358.3 L986.1,1355.7 L992.2,1353.1 L998.2,1350.5 L1004.2,1348.0 L1010.2,1345.4 L1016.2,1342.8 L1022.3,1340.2 L1028.3,1337.7 L1034.3,1335.1 L1040.3,1332.6 L1046.3,1330.0 L1052.4,1327.5 L1058.4,1324.9 L1064.4,1322.4 L1070.4,1319.9 L1076.4,1317.4 L1082.5,1314.9 L1088.5,1312.4 L1094.5,1309.9 L1100.5,1307.4 L1106.5,1304.9 L1112.6,1302.4 L1118.6,1299.9 L1124.6,1297.4 L1130.6,1295.0 L1136.6,1292.5 L1142.7,1290.0 L1148.7,1287.6 L1154.7,1285.1 L1160.7,1282.7 L1166.7,1280.3 L1172.8,1277.9 L1178.8,1275.4 L1184.8,1273.0 L1190.8,1270.6 L1196.8,1268.2 L1202.9,1265.8 L1208.9,1263.4 L1214.9,1261.0 L1220.9,1258.6 L1226.9,1256.3 L1233.0,1253.9 L1239.0,1251.5 L1245.0,1249.2 L1251.0,1246.8 L1257.0,1244.5 L1263.1,1242.2 L1269.1,1239.8 L1275.1,1237.5 L1281.1,1235.2 L1287.1,1232.9 L1293.2,1230.6 L1299.2,1228.3 L1305.2,1226.0 L1311.2,1223.7 L1317.2,1221.4 L1323.3,1219.1 L1329.3,1216.9 L1335.3,1214.6 L1341.3,1212.4 L1347.3,1210.1 L1353.4,1207.9 L1359.4,1205.6 L1365.4,1203.4 L1371.4,1201.2 L1377.4,1199.0 L1383.5,1196.8 L1389.5,1194.6 L1395.5,1192.4 L1401.5,1190.2 L1407.5,1188.0 L1413.6,1185.8 L1419.6,1183.7 L1425.6,1181.5 L1431.6,1179.4 L1437.6,1177.2 L1443.7,1175.1 L1449.7,1172.9 L1455.7,1170.8 L1461.7,1168.7 L1467.7,1166.6 L1473.8,1164.5 L1479.8,1162.4 L1485.8,1160.3 L1491.8,1158.2 L1497.8,1156.1 L1503.9,1154.1 L1509.9,1152.0 L1515.9,1149.9 L1521.9,1147.9 L1527.9,1145.8 L1534.0,1143.8 L1540.0,1141.8 L1546.0,1139.8 L1552.0,1137.8 L1558.0,1135.7 L1564.1,1133.8 L1570.1,1131.8 L1576.1,1129.8 L1582.1,1127.8 L1588.1,1125.8 L1594.2,1123.9 L1600.2,1121.9 L1606.2,1120.0 L1612.2,1118.0 L1618.2,1116.1 L1624.3,1114.2 L1630.3,1112.3 L1636.3,1110.4" fill="none" stroke="#98FF6A" stroke-width="4.5" stroke-linejoin="round" stroke-linecap="round"/>
<path d="M287.8,1688.2 L293.8,1685.0 L299.8,1681.8 L305.9,1678.6 L311.9,1675.4 L317.9,1672.3 L323.9,1669.1 L329.9,1665.9 L336.0,1662.8 L342.0,1659.7 L348.0,1656.5 L354.0,1653.4 L360.0,1650.3 L366.1,1647.1 L372.1,1644.0 L378.1,1640.9 L384.1,1637.8 L390.1,1634.7 L396.2,1631.6 L402.2,1628.5 L408.2,1625.5 L414.2,1622.4 L420.2,1619.3 L426.3,1616.2 L432.3,1613.2 L438.3,1610.1 L444.3,1607.1 L450.3,1604.1 L456.4,1601.0 L462.4,1598.0 L468.4,1595.0 L474.4,1592.0 L480.4,1589.0 L486.5,1586.0 L492.5,1583.0 L498.5,1580.0 L504.5,1577.0 L510.5,1574.0 L516.6,1571.0 L522.6,1568.1 L528.6,1565.1 L534.6,1562.2 L540.6,1559.2 L546.7,1556.3 L552.7,1553.3 L558.7,1550.4 L564.7,1547.5 L570.7,1544.6 L576.8,1541.7 L582.8,1538.7 L588.8,1535.9 L594.8,1533.0 L600.8,1530.1 L606.9,1527.2 L612.9,1524.3 L618.9,1521.5 L624.9,1518.6 L630.9,1515.7 L637.0,1512.9 L643.0,1510.1 L649.0,1507.2 L655.0,1504.4 L661.0,1501.6 L667.1,1498.8 L673.1,1495.9 L679.1,1493.1 L685.1,1490.3 L691.1,1487.6 L697.2,1484.8 L703.2,1482.0 L709.2,1479.2 L715.2,1476.5 L721.2,1473.7 L727.3,1471.0 L733.3,1468.2 L739.3,1465.5 L745.3,1462.7 L751.3,1460.0 L757.4,1457.3 L763.4,1454.6 L769.4,1451.9 L775.4,1449.2 L781.4,1446.5 L787.5,1443.8 L793.5,1441.1 L799.5,1438.5 L805.5,1435.8 L811.5,1433.2 L817.6,1430.5 L823.6,1427.9 L829.6,1425.2 L835.6,1422.6 L841.6,1420.0 L847.7,1417.4 L853.7,1414.7 L859.7,1412.1 L865.7,1409.5 L871.7,1407.0 L877.8,1404.4 L883.8,1401.8 L889.8,1399.2 L895.8,1396.7 L901.8,1394.1 L907.9,1391.6 L913.9,1389.0 L919.9,1386.5 L925.9,1384.0 L931.9,1381.4 L938.0,1378.9 L944.0,1376.4 L950.0,1373.9 L956.0,1371.4 L962.0,1369.0 L968.1,1366.5 L974.1,1364.0 L980.1,1361.5 L986.1,1359.1 L992.2,1356.6 L998.2,1354.2 L1004.2,1351.8 L1010.2,1349.3 L1016.2,1346.9 L1022.3,1344.5 L1028.3,1342.1 L1034.3,1339.7 L1040.3,1337.3 L1046.3,1334.9 L1052.4,1332.5 L1058.4,1330.2 L1064.4,1327.8 L1070.4,1325.5 L1076.4,1323.1 L1082.5,1320.8 L1088.5,1318.4 L1094.5,1316.1 L1100.5,1313.8 L1106.5,1311.5 L1112.6,1309.2 L1118.6,1306.9 L1124.6,1304.6 L1130.6,1302.3 L1136.6,1300.0 L1142.7,1297.8 L1148.7,1295.5 L1154.7,1293.3 L1160.7,1291.0 L1166.7,1288.8 L1172.8,1286.6 L1178.8,1284.3 L1184.8,1282.1 L1190.8,1279.9 L1196.8,1277.7 L1202.9,1275.5 L1208.9,1273.3 L1214.9,1271.2 L1220.9,1269.0 L1226.9,1266.8 L1233.0,1264.7 L1239.0,1262.5 L1245.0,1260.4 L1251.0,1258.3 L1257.0,1256.1 L1263.1,1254.0 L1269.1,1251.9 L1275.1,1249.8 L1281.1,1247.7 L1287.1,1245.6 L1293.2,1243.6 L1299.2,1241.5 L1305.2,1239.4 L1311.2,1237.4 L1317.2,1235.3 L1323.3,1233.3 L1329.3,1231.3 L1335.3,1229.3 L1341.3,1227.2 L1347.3,1225.2 L1353.4,1223.2 L1359.4,1221.2 L1365.4,1219.3 L1371.4,1217.3 L1377.4,1215.3 L1383.5,1213.4 L1389.5,1211.4 L1395.5,1209.5 L1401.5,1207.5 L1407.5,1205.6 L1413.6,1203.7 L1419.6,1201.8 L1425.6,1199.9 L1431.6,1198.0 L1437.6,1196.1 L1443.7,1194.2 L1449.7,1192.4 L1455.7,1190.5 L1461.7,1188.6 L1467.7,1186.8 L1473.8,1185.0 L1479.8,1183.1 L1485.8,1181.3 L1491.8,1179.5 L1497.8,1177.7 L1503.9,1175.9 L1509.9,1174.1 L1515.9,1172.3 L1521.9,1170.6 L1527.9,1168.8 L1534.0,1167.0 L1540.0,1165.3 L1546.0,1163.6 L1552.0,1161.8 L1558.0,1160.1 L1564.1,1158.4 L1570.1,1156.7 L1576.1,1155.0 L1582.1,1153.3 L1588.1,1151.6 L1594.2,1149.9 L1600.2,1148.3 L1606.2,1146.6 L1612.2,1145.0 L1618.2,1143.3 L1624.3,1141.7 L1630.3,1140.1 L1636.3,1138.5" fill="none" stroke="#00FFBB" stroke-width="4.5" stroke-linejoin="round" stroke-linecap="round"/>
<path d="M287.8,1702.1 L293.8,1699.5 L299.8,1696.8 L305.9,1694.2 L311.9,1691.5 L317.9,1688.9 L323.9,1686.3 L329.9,1683.7 L336.0,1681.1 L342.0,1678.5 L348.0,1676.0 L354.0,1673.4 L360.0,1670.9 L366.1,1668.3 L372.1,1665.8 L378.1,1663.3 L384.1,1660.8 L390.1,1658.3 L396.2,1655.8 L402.2,1653.3 L408.2,1650.8 L414.2,1648.4 L420.2,1645.9 L426.3,1643.5 L432.3,1641.0 L438.3,1638.6 L444.3,1636.2 L450.3,1633.8 L456.4,1631.4 L462.4,1629.1 L468.4,1626.7 L474.4,1624.3 L480.4,1622.0 L486.5,1619.7 L492.5,1617.3 L498.5,1615.0 L504.5,1612.7 L510.5,1610.4 L516.6,1608.1 L522.6,1605.9 L528.6,1603.6 L534.6,1601.4 L540.6,1599.1 L546.7,1596.9 L552.7,1594.7 L558.7,1592.5 L564.7,1590.3 L570.7,1588.1 L576.8,1585.9 L582.8,1583.8 L588.8,1581.6 L594.8,1579.5 L600.8,1577.3 L606.9,1575.2 L612.9,1573.1 L618.9,1571.0 L624.9,1568.9 L630.9,1566.9 L637.0,1564.8 L643.0,1562.7 L649.0,1560.7 L655.0,1558.7 L661.0,1556.7 L667.1,1554.6 L673.1,1552.7 L679.1,1550.7 L685.1,1548.7 L691.1,1546.7 L697.2,1544.8 L703.2,1542.8 L709.2,1540.9 L715.2,1539.0 L721.2,1537.1 L727.3,1535.2 L733.3,1533.3 L739.3,1531.4 L745.3,1529.6 L751.3,1527.7 L757.4,1525.9 L763.4,1524.1 L769.4,1522.3 L775.4,1520.5 L781.4,1518.7 L787.5,1516.9 L793.5,1515.1 L799.5,1513.4 L805.5,1511.6 L811.5,1509.9 L817.6,1508.1 L823.6,1506.4 L829.6,1504.7 L835.6,1503.0 L841.6,1501.3 L847.7,1499.7 L853.7,1498.0 L859.7,1496.4 L865.7,1494.7 L871.7,1493.1 L877.8,1491.5 L883.8,1489.9 L889.8,1488.3 L895.8,1486.7 L901.8,1485.1 L907.9,1483.6 L913.9,1482.0 L919.9,1480.5 L925.9,1478.9 L931.9,1477.4 L938.0,1475.9 L944.0,1474.4 L950.0,1472.9 L956.0,1471.4 L962.0,1470.0 L968.1,1468.5 L974.1,1467.1 L980.1,1465.6 L986.1,1464.2 L992.2,1462.8 L998.2,1461.4 L1004.2,1460.0 L1010.2,1458.6 L1016.2,1457.2 L1022.3,1455.8 L1028.3,1454.5 L1034.3,1453.1 L1040.3,1451.8 L1046.3,1450.5 L1052.4,1449.2 L1058.4,1447.9 L1064.4,1446.6 L1070.4,1445.3 L1076.4,1444.0 L1082.5,1442.8 L1088.5,1441.5 L1094.5,1440.3 L1100.5,1439.0 L1106.5,1437.8 L1112.6,1436.6 L1118.6,1435.4 L1124.6,1434.2 L1130.6,1433.0 L1136.6,1431.8 L1142.7,1430.7 L1148.7,1429.5 L1154.7,1428.4 L1160.7,1427.2 L1166.7,1426.1 L1172.8,1425.0 L1178.8,1423.9 L1184.8,1422.8 L1190.8,1421.7 L1196.8,1420.6 L1202.9,1419.6 L1208.9,1418.5 L1214.9,1417.5 L1220.9,1416.4 L1226.9,1415.4 L1233.0,1414.4 L1239.0,1413.4 L1245.0,1412.4 L1251.0,1411.4 L1257.0,1410.4 L1263.1,1409.4 L1269.1,1408.5 L1275.1,1407.5 L1281.1,1406.6 L1287.1,1405.6 L1293.2,1404.7 L1299.2,1403.8 L1305.2,1402.9 L1311.2,1402.0 L1317.2,1401.1 L1323.3,1400.2 L1329.3,1399.3 L1335.3,1398.5 L1341.3,1397.6 L1347.3,1396.8 L1353.4,1396.0 L1359.4,1395.1 L1365.4,1394.3 L1371.4,1393.5 L1377.4,1392.7 L1383.5,1391.9 L1389.5,1391.1 L1395.5,1390.4 L1401.5,1389.6 L1407.5,1388.9 L1413.6,1388.1 L1419.6,1387.4 L1425.6,1386.6 L1431.6,1385.9 L1437.6,1385.2 L1443.7,1384.5 L1449.7,1383.8 L1455.7,1383.1 L1461.7,1382.5 L1467.7,1381.8 L1473.8,1381.1 L1479.8,1380.5 L1485.8,1379.9 L1491.8,1379.2 L1497.8,1378.6 L1503.9,1378.0 L1509.9,1377.4 L1515.9,1376.8 L1521.9,1376.2 L1527.9,1375.6 L1534.0,1375.1 L1540.0,1374.5 L1546.0,1373.9 L1552.0,1373.4 L1558.0,1372.8 L1564.1,1372.3 L1570.1,1371.8 L1576.1,1371.3 L1582.1,1370.8 L1588.1,1370.3 L1594.2,1369.8 L1600.2,1369.3 L1606.2,1368.8 L1612.2,1368.4 L1618.2,1367.9 L1624.3,1367.5 L1630.3,1367.0 L1636.3,1366.6" fill="none" stroke="#00D0FF" stroke-width="4.5" stroke-linejoin="round" stroke-linecap="round"/>
<path d="M287.8,1706.4 L293.8,1704.8 L299.8,1703.2 L305.9,1701.5 L311.9,1699.9 L317.9,1698.2 L323.9,1696.5 L329.9,1694.8 L336.0,1693.1 L342.0,1691.4 L348.0,1689.7 L354.0,1687.9 L360.0,1686.2 L366.1,1684.5 L372.1,1682.7 L378.1,1681.0 L384.1,1679.2 L390.1,1677.5 L396.2,1675.8 L402.2,1674.1 L408.2,1672.3 L414.2,1670.6 L420.2,1669.0 L426.3,1667.3 L432.3,1665.6 L438.3,1664.0 L444.3,1662.3 L450.3,1660.7 L456.4,1659.1 L462.4,1657.5 L468.4,1655.9 L474.4,1654.3 L480.4,1652.8 L486.5,1651.2 L492.5,1649.7 L498.5,1648.1 L504.5,1646.6 L510.5,1645.1 L516.6,1643.6 L522.6,1642.2 L528.6,1640.7 L534.6,1639.3 L540.6,1637.8 L546.7,1636.4 L552.7,1635.0 L558.7,1633.6 L564.7,1632.2 L570.7,1630.8 L576.8,1629.4 L582.8,1628.1 L588.8,1626.7 L594.8,1625.4 L600.8,1624.1 L606.9,1622.8 L612.9,1621.5 L618.9,1620.2 L624.9,1618.9 L630.9,1617.7 L637.0,1616.4 L643.0,1615.2 L649.0,1613.9 L655.0,1612.7 L661.0,1611.5 L667.1,1610.3 L673.1,1609.1 L679.1,1608.0 L685.1,1606.8 L691.1,1605.7 L697.2,1604.5 L703.2,1603.4 L709.2,1602.3 L715.2,1601.2 L721.2,1600.1 L727.3,1599.0 L733.3,1597.9 L739.3,1596.8 L745.3,1595.8 L751.3,1594.7 L757.4,1593.7 L763.4,1592.7 L769.4,1591.6 L775.4,1590.6 L781.4,1589.6 L787.5,1588.7 L793.5,1587.7 L799.5,1586.7 L805.5,1585.8 L811.5,1584.8 L817.6,1583.9 L823.6,1582.9 L829.6,1582.0 L835.6,1581.1 L841.6,1580.2 L847.7,1579.3 L853.7,1578.4 L859.7,1577.6 L865.7,1576.7 L871.7,1575.9 L877.8,1575.0 L883.8,1574.2 L889.8,1573.4 L895.8,1572.5 L901.8,1571.7 L907.9,1570.9 L913.9,1570.1 L919.9,1569.4 L925.9,1568.6 L931.9,1567.8 L938.0,1567.1 L944.0,1566.3 L950.0,1565.6 L956.0,1564.9 L962.0,1564.1 L968.1,1563.4 L974.1,1562.7 L980.1,1562.0 L986.1,1561.3 L992.2,1560.6 L998.2,1560.0 L1004.2,1559.3 L1010.2,1558.7 L1016.2,1558.0 L1022.3,1557.4 L1028.3,1556.7 L1034.3,1556.1 L1040.3,1555.5 L1046.3,1554.9 L1052.4,1554.3 L1058.4,1553.7 L1064.4,1553.1 L1070.4,1552.5 L1076.4,1551.9 L1082.5,1551.4 L1088.5,1550.8 L1094.5,1550.3 L1100.5,1549.7 L1106.5,1549.2 L1112.6,1548.6 L1118.6,1548.1 L1124.6,1547.6 L1130.6,1547.1 L1136.6,1546.6 L1142.7,1546.1 L1148.7,1545.6 L1154.7,1545.1 L1160.7,1544.6 L1166.7,1544.2 L1172.8,1543.7 L1178.8,1543.2 L1184.8,1542.8 L1190.8,1542.3 L1196.8,1541.9 L1202.9,1541.5 L1208.9,1541.0 L1214.9,1540.6 L1220.9,1540.2 L1226.9,1539.8 L1233.0,1539.4 L1239.0,1539.0 L1245.0,1538.6 L1251.0,1538.2 L1257.0,1537.8 L1263.1,1537.5 L1269.1,1537.1 L1275.1,1536.7 L1281.1,1536.4 L1287.1,1536.0 L1293.2,1535.7 L1299.2,1535.3 L1305.2,1535.0 L1311.2,1534.7 L1317.2,1534.3 L1323.3,1534.0 L1329.3,1533.7 L1335.3,1533.4 L1341.3,1533.1 L1347.3,1532.8 L1353.4,1532.5 L1359.4,1532.2 L1365.4,1531.9 L1371.4,1531.6 L1377.4,1531.4 L1383.5,1531.1 L1389.5,1530.8 L1395.5,1530.5 L1401.5,1530.3 L1407.5,1530.0 L1413.6,1529.8 L1419.6,1529.5 L1425.6,1529.3 L1431.6,1529.0 L1437.6,1528.8 L1443.7,1528.6 L1449.7,1528.3 L1455.7,1528.1 L1461.7,1527.9 L1467.7,1527.7 L1473.8,1527.5 L1479.8,1527.3 L1485.8,1527.1 L1491.8,1526.9 L1497.8,1526.7 L1503.9,1526.5 L1509.9,1526.3 L1515.9,1526.1 L1521.9,1525.9 L1527.9,1525.7 L1534.0,1525.5 L1540.0,1525.4 L1546.0,1525.2 L1552.0,1525.0 L1558.0,1524.8 L1564.1,1524.7 L1570.1,1524.5 L1576.1,1524.4 L1582.1,1524.2 L1588.1,1524.1 L1594.2,1523.9 L1600.2,1523.8 L1606.2,1523.6 L1612.2,1523.5 L1618.2,1523.3 L1624.3,1523.2 L1630.3,1523.1 L1636.3,1522.9" fill="none" stroke="#7272FF" stroke-width="4.5" stroke-linejoin="round" stroke-linecap="round"/>
<path d="M254.2,1926.0 H291.7 V2744.0" fill="none" stroke="#000" stroke-width="4.2" stroke-linejoin="miter"/>
<path d="M254.2,2708.5 H1637.7 V2744.0" fill="none" stroke="#000" stroke-width="4.2" stroke-linejoin="miter"/>
<path d="M254.2,2121.6 H291.7" stroke="#000" stroke-width="4.2"/>
<path d="M254.2,2317.2 H291.7" stroke="#000" stroke-width="4.2"/>
<path d="M254.2,2512.9 H291.7" stroke="#000" stroke-width="4.2"/>
<path d="M560.9,2708.5 V2744.0" stroke="#000" stroke-width="4.2"/>
<path d="M830.1,2708.5 V2744.0" stroke="#000" stroke-width="4.2"/>
<path d="M1099.3,2708.5 V2744.0" stroke="#000" stroke-width="4.2"/>
<path d="M1368.5,2708.5 V2744.0" stroke="#000" stroke-width="4.2"/>
<text class="t" x="237.5" y="1945.0" text-anchor="end">0.4</text>
<text class="t" x="237.5" y="2140.6" text-anchor="end">0.3</text>
<text class="t" x="237.5" y="2336.2" text-anchor="end">0.2</text>
<text class="t" x="237.5" y="2531.9" text-anchor="end">0.1</text>
<text class="t" x="237.5" y="2727.5" text-anchor="end">0.0</text>
<text class="t" x="291.7" y="2816.0" text-anchor="middle">0</text>
<text class="t" x="560.9" y="2816.0" text-anchor="middle">20</text>
<text class="t" x="830.1" y="2816.0" text-anchor="middle">40</text>
<text class="t" x="1099.3" y="2816.0" text-anchor="middle">60</text>
<text class="t" x="1368.5" y="2816.0" text-anchor="middle">80</text>
<text class="t" x="1637.7" y="2816.0" text-anchor="middle">100</text>
<path d="M291.0,2538.6 L297.0,2534.7 L303.0,2530.8 L309.1,2526.7 L315.1,2522.7 L321.1,2518.5 L327.1,2514.3 L333.1,2510.1 L339.1,2505.8 L345.2,2501.5 L351.2,2497.2 L357.2,2492.8 L363.2,2488.5 L369.2,2484.1 L375.2,2479.7 L381.3,2475.3 L387.3,2470.9 L393.3,2466.5 L399.3,2462.2 L405.3,2457.8 L411.3,2453.5 L417.4,2449.2 L423.4,2444.9 L429.4,2440.7 L435.4,2436.6 L441.4,2432.4 L447.5,2428.4 L453.5,2424.4 L459.5,2420.4 L465.5,2416.5 L471.5,2412.7 L477.5,2408.9 L483.6,2405.2 L489.6,2401.5 L495.6,2397.9 L501.6,2394.3 L507.6,2390.9 L513.6,2387.4 L519.7,2384.1 L525.7,2380.8 L531.7,2377.6 L537.7,2374.4 L543.7,2371.3 L549.8,2368.3 L555.8,2365.3 L561.8,2362.4 L567.8,2359.6 L573.8,2356.9 L579.8,2354.2 L585.9,2351.6 L591.9,2349.0 L597.9,2346.6 L603.9,2344.2 L609.9,2341.9 L615.9,2339.6 L622.0,2337.5 L628.0,2335.4 L634.0,2333.3 L640.0,2331.3 L646.0,2329.4 L652.0,2327.5 L658.1,2325.7 L664.1,2323.9 L670.1,2322.1 L676.1,2320.4 L682.1,2318.7 L688.2,2317.1 L694.2,2315.5 L700.2,2313.9 L706.2,2312.4 L712.2,2310.8 L718.2,2309.3 L724.3,2307.8 L730.3,2306.4 L736.3,2304.9 L742.3,2303.5 L748.3,2302.1 L754.3,2300.7 L760.4,2299.3 L766.4,2298.0 L772.4,2296.7 L778.4,2295.4 L784.4,2294.1 L790.5,2292.8 L796.5,2291.6 L802.5,2290.4 L808.5,2289.2 L814.5,2288.0 L820.5,2286.8 L826.6,2285.7 L832.6,2284.6 L838.6,2283.5 L844.6,2282.4 L850.6,2281.4 L856.6,2280.4 L862.7,2279.4 L868.7,2278.4 L874.7,2277.4 L880.7,2276.5 L886.7,2275.6 L892.7,2274.7 L898.8,2273.8 L904.8,2272.9 L910.8,2272.1 L916.8,2271.3 L922.8,2270.5 L928.9,2269.7 L934.9,2268.9 L940.9,2268.2 L946.9,2267.4 L952.9,2266.7 L958.9,2266.0 L965.0,2265.3 L971.0,2264.6 L977.0,2264.0 L983.0,2263.3 L989.0,2262.7 L995.0,2262.1 L1001.1,2261.5 L1007.1,2260.9 L1013.1,2260.3 L1019.1,2259.7 L1025.1,2259.2 L1031.2,2258.6 L1037.2,2258.1 L1043.2,2257.5 L1049.2,2257.0 L1055.2,2256.5 L1061.2,2256.0 L1067.3,2255.5 L1073.3,2255.0 L1079.3,2254.6 L1085.3,2254.1 L1091.3,2253.7 L1097.3,2253.2 L1103.4,2252.8 L1109.4,2252.3 L1115.4,2251.9 L1121.4,2251.5 L1127.4,2251.1 L1133.4,2250.7 L1139.5,2250.3 L1145.5,2249.9 L1151.5,2249.6 L1157.5,2249.2 L1163.5,2248.8 L1169.6,2248.5 L1175.6,2248.1 L1181.6,2247.8 L1187.6,2247.4 L1193.6,2247.1 L1199.6,2246.8 L1205.7,2246.5 L1211.7,2246.2 L1217.7,2245.8 L1223.7,2245.5 L1229.7,2245.2 L1235.7,2244.9 L1241.8,2244.7 L1247.8,2244.4 L1253.8,2244.1 L1259.8,2243.8 L1265.8,2243.5 L1271.9,2243.3 L1277.9,2243.0 L1283.9,2242.8 L1289.9,2242.5 L1295.9,2242.2 L1301.9,2242.0 L1308.0,2241.7 L1314.0,2241.5 L1320.0,2241.3 L1326.0,2241.0 L1332.0,2240.8 L1338.0,2240.6 L1344.1,2240.3 L1350.1,2240.1 L1356.1,2239.9 L1362.1,2239.6 L1368.1,2239.4 L1374.1,2239.2 L1380.2,2239.0 L1386.2,2238.7 L1392.2,2238.5 L1398.2,2238.3 L1404.2,2238.1 L1410.3,2237.9 L1416.3,2237.6 L1422.3,2237.4 L1428.3,2237.2 L1434.3,2237.0 L1440.3,2236.8 L1446.4,2236.5 L1452.4,2236.3 L1458.4,2236.1 L1464.4,2235.9 L1470.4,2235.6 L1476.4,2235.4 L1482.5,2235.2 L1488.5,2235.0 L1494.5,2234.7 L1500.5,2234.5 L1506.5,2234.3 L1512.6,2234.0 L1518.6,2233.8 L1524.6,2233.5 L1530.6,2233.3 L1536.6,2233.0 L1542.6,2232.8 L1548.7,2232.5 L1554.7,2232.3 L1560.7,2232.0 L1566.7,2231.8 L1572.7,2231.5 L1578.7,2231.2 L1584.8,2230.9 L1590.8,2230.7 L1596.8,2230.4 L1602.8,2230.1 L1608.8,2229.8 L1614.8,2229.5 L1620.9,2229.2 L1626.9,2228.9 L1632.9,2228.6" fill="none" stroke="#FFA676" stroke-width="4.5" stroke-linejoin="round" stroke-linecap="round"/>
<path d="M291.0,2623.1 L297.0,2621.5 L303.0,2619.7 L309.1,2617.9 L315.1,2616.0 L321.1,2614.0 L327.1,2612.0 L333.1,2609.9 L339.1,2607.8 L345.2,2605.6 L351.2,2603.4 L357.2,2601.1 L363.2,2598.7 L369.2,2596.4 L375.2,2593.9 L381.3,2591.5 L387.3,2589.0 L393.3,2586.4 L399.3,2583.8 L405.3,2581.2 L411.3,2578.6 L417.4,2575.9 L423.4,2573.2 L429.4,2570.5 L435.4,2567.8 L441.4,2565.0 L447.5,2562.2 L453.5,2559.4 L459.5,2556.6 L465.5,2553.8 L471.5,2551.0 L477.5,2548.2 L483.6,2545.3 L489.6,2542.5 L495.6,2539.7 L501.6,2536.8 L507.6,2534.0 L513.6,2531.2 L519.7,2528.4 L525.7,2525.6 L531.7,2522.8 L537.7,2520.1 L543.7,2517.3 L549.8,2514.6 L555.8,2511.9 L561.8,2509.2 L567.8,2506.5 L573.8,2503.9 L579.8,2501.3 L585.9,2498.8 L591.9,2496.2 L597.9,2493.7 L603.9,2491.3 L609.9,2488.8 L615.9,2486.4 L622.0,2484.0 L628.0,2481.7 L634.0,2479.3 L640.0,2477.0 L646.0,2474.8 L652.0,2472.5 L658.1,2470.3 L664.1,2468.2 L670.1,2466.0 L676.1,2463.9 L682.1,2461.8 L688.2,2459.7 L694.2,2457.7 L700.2,2455.7 L706.2,2453.7 L712.2,2451.7 L718.2,2449.8 L724.3,2447.9 L730.3,2446.0 L736.3,2444.1 L742.3,2442.3 L748.3,2440.5 L754.3,2438.7 L760.4,2437.0 L766.4,2435.2 L772.4,2433.5 L778.4,2431.8 L784.4,2430.2 L790.5,2428.6 L796.5,2426.9 L802.5,2425.4 L808.5,2423.8 L814.5,2422.3 L820.5,2420.7 L826.6,2419.2 L832.6,2417.8 L838.6,2416.3 L844.6,2414.9 L850.6,2413.5 L856.6,2412.1 L862.7,2410.7 L868.7,2409.4 L874.7,2408.1 L880.7,2406.8 L886.7,2405.5 L892.7,2404.3 L898.8,2403.0 L904.8,2401.8 L910.8,2400.6 L916.8,2399.4 L922.8,2398.3 L928.9,2397.1 L934.9,2396.0 L940.9,2394.9 L946.9,2393.8 L952.9,2392.8 L958.9,2391.7 L965.0,2390.7 L971.0,2389.7 L977.0,2388.7 L983.0,2387.7 L989.0,2386.8 L995.0,2385.8 L1001.1,2384.9 L1007.1,2384.0 L1013.1,2383.1 L1019.1,2382.2 L1025.1,2381.4 L1031.2,2380.5 L1037.2,2379.7 L1043.2,2378.9 L1049.2,2378.1 L1055.2,2377.3 L1061.2,2376.6 L1067.3,2375.8 L1073.3,2375.1 L1079.3,2374.4 L1085.3,2373.7 L1091.3,2373.0 L1097.3,2372.3 L1103.4,2371.6 L1109.4,2371.0 L1115.4,2370.3 L1121.4,2369.7 L1127.4,2369.1 L1133.4,2368.5 L1139.5,2367.9 L1145.5,2367.3 L1151.5,2366.7 L1157.5,2366.2 L1163.5,2365.6 L1169.6,2365.1 L1175.6,2364.6 L1181.6,2364.1 L1187.6,2363.6 L1193.6,2363.1 L1199.6,2362.6 L1205.7,2362.1 L1211.7,2361.7 L1217.7,2361.2 L1223.7,2360.8 L1229.7,2360.4 L1235.7,2359.9 L1241.8,2359.5 L1247.8,2359.1 L1253.8,2358.7 L1259.8,2358.3 L1265.8,2358.0 L1271.9,2357.6 L1277.9,2357.2 L1283.9,2356.9 L1289.9,2356.5 L1295.9,2356.2 L1301.9,2355.8 L1308.0,2355.5 L1314.0,2355.2 L1320.0,2354.8 L1326.0,2354.5 L1332.0,2354.2 L1338.0,2353.9 L1344.1,2353.6 L1350.1,2353.3 L1356.1,2353.0 L1362.1,2352.8 L1368.1,2352.5 L1374.1,2352.2 L1380.2,2351.9 L1386.2,2351.7 L1392.2,2351.4 L1398.2,2351.2 L1404.2,2350.9 L1410.3,2350.7 L1416.3,2350.4 L1422.3,2350.2 L1428.3,2349.9 L1434.3,2349.7 L1440.3,2349.4 L1446.4,2349.2 L1452.4,2349.0 L1458.4,2348.7 L1464.4,2348.5 L1470.4,2348.3 L1476.4,2348.0 L1482.5,2347.8 L1488.5,2347.6 L1494.5,2347.3 L1500.5,2347.1 L1506.5,2346.9 L1512.6,2346.6 L1518.6,2346.4 L1524.6,2346.2 L1530.6,2345.9 L1536.6,2345.7 L1542.6,2345.5 L1548.7,2345.2 L1554.7,2345.0 L1560.7,2344.8 L1566.7,2344.5 L1572.7,2344.3 L1578.7,2344.0 L1584.8,2343.8 L1590.8,2343.5 L1596.8,2343.3 L1602.8,2343.0 L1608.8,2342.7 L1614.8,2342.5 L1620.9,2342.2 L1626.9,2341.9 L1632.9,2341.6" fill="none" stroke="#FFD070" stroke-width="4.5" stroke-linejoin="round" stroke-linecap="round"/>
<path d="M291.0,2622.8 L297.0,2622.5 L303.0,2622.2 L309.1,2621.8 L315.1,2621.4 L321.1,2620.9 L327.1,2620.4 L333.1,2619.8 L339.1,2619.2 L345.2,2618.5 L351.2,2617.7 L357.2,2617.0 L363.2,2616.1 L369.2,2615.3 L375.2,2614.3 L381.3,2613.4 L387.3,2612.4 L393.3,2611.3 L399.3,2610.2 L405.3,2609.1 L411.3,2607.9 L417.4,2606.7 L423.4,2605.5 L429.4,2604.2 L435.4,2602.9 L441.4,2601.6 L447.5,2600.2 L453.5,2598.8 L459.5,2597.3 L465.5,2595.9 L471.5,2594.4 L477.5,2592.9 L483.6,2591.3 L489.6,2589.7 L495.6,2588.1 L501.6,2586.5 L507.6,2584.9 L513.6,2583.2 L519.7,2581.5 L525.7,2579.8 L531.7,2578.1 L537.7,2576.4 L543.7,2574.6 L549.8,2572.9 L555.8,2571.1 L561.8,2569.3 L567.8,2567.5 L573.8,2565.7 L579.8,2563.9 L585.9,2562.0 L591.9,2560.2 L597.9,2558.3 L603.9,2556.5 L609.9,2554.6 L615.9,2552.8 L622.0,2550.9 L628.0,2549.1 L634.0,2547.2 L640.0,2545.3 L646.0,2543.5 L652.0,2541.6 L658.1,2539.8 L664.1,2537.9 L670.1,2536.1 L676.1,2534.3 L682.1,2532.4 L688.2,2530.6 L694.2,2528.8 L700.2,2527.0 L706.2,2525.2 L712.2,2523.5 L718.2,2521.7 L724.3,2520.0 L730.3,2518.2 L736.3,2516.5 L742.3,2514.8 L748.3,2513.1 L754.3,2511.4 L760.4,2509.8 L766.4,2508.1 L772.4,2506.5 L778.4,2504.9 L784.4,2503.3 L790.5,2501.7 L796.5,2500.1 L802.5,2498.5 L808.5,2497.0 L814.5,2495.5 L820.5,2493.9 L826.6,2492.4 L832.6,2490.9 L838.6,2489.4 L844.6,2487.9 L850.6,2486.5 L856.6,2485.0 L862.7,2483.6 L868.7,2482.2 L874.7,2480.8 L880.7,2479.4 L886.7,2478.0 L892.7,2476.6 L898.8,2475.3 L904.8,2473.9 L910.8,2472.6 L916.8,2471.3 L922.8,2469.9 L928.9,2468.6 L934.9,2467.4 L940.9,2466.1 L946.9,2464.8 L952.9,2463.6 L958.9,2462.3 L965.0,2461.1 L971.0,2459.9 L977.0,2458.7 L983.0,2457.5 L989.0,2456.3 L995.0,2455.2 L1001.1,2454.0 L1007.1,2452.9 L1013.1,2451.8 L1019.1,2450.7 L1025.1,2449.5 L1031.2,2448.5 L1037.2,2447.4 L1043.2,2446.3 L1049.2,2445.2 L1055.2,2444.2 L1061.2,2443.2 L1067.3,2442.1 L1073.3,2441.1 L1079.3,2440.1 L1085.3,2439.1 L1091.3,2438.2 L1097.3,2437.2 L1103.4,2436.2 L1109.4,2435.3 L1115.4,2434.4 L1121.4,2433.4 L1127.4,2432.5 L1133.4,2431.6 L1139.5,2430.7 L1145.5,2429.9 L1151.5,2429.0 L1157.5,2428.1 L1163.5,2427.3 L1169.6,2426.5 L1175.6,2425.6 L1181.6,2424.8 L1187.6,2424.0 L1193.6,2423.2 L1199.6,2422.4 L1205.7,2421.7 L1211.7,2420.9 L1217.7,2420.2 L1223.7,2419.4 L1229.7,2418.7 L1235.7,2418.0 L1241.8,2417.3 L1247.8,2416.6 L1253.8,2415.9 L1259.8,2415.2 L1265.8,2414.5 L1271.9,2413.9 L1277.9,2413.2 L1283.9,2412.6 L1289.9,2411.9 L1295.9,2411.3 L1301.9,2410.7 L1308.0,2410.1 L1314.0,2409.5 L1320.0,2408.9 L1326.0,2408.4 L1332.0,2407.8 L1338.0,2407.3 L1344.1,2406.7 L1350.1,2406.2 L1356.1,2405.7 L1362.1,2405.1 L1368.1,2404.6 L1374.1,2404.1 L1380.2,2403.7 L1386.2,2403.2 L1392.2,2402.7 L1398.2,2402.3 L1404.2,2401.8 L1410.3,2401.4 L1416.3,2400.9 L1422.3,2400.5 L1428.3,2400.1 L1434.3,2399.7 L1440.3,2399.3 L1446.4,2398.9 L1452.4,2398.5 L1458.4,2398.2 L1464.4,2397.8 L1470.4,2397.4 L1476.4,2397.1 L1482.5,2396.8 L1488.5,2396.4 L1494.5,2396.1 L1500.5,2395.8 L1506.5,2395.5 L1512.6,2395.2 L1518.6,2394.9 L1524.6,2394.7 L1530.6,2394.4 L1536.6,2394.1 L1542.6,2393.9 L1548.7,2393.6 L1554.7,2393.4 L1560.7,2393.2 L1566.7,2392.9 L1572.7,2392.7 L1578.7,2392.5 L1584.8,2392.3 L1590.8,2392.1 L1596.8,2392.0 L1602.8,2391.8 L1608.8,2391.6 L1614.8,2391.5 L1620.9,2391.3 L1626.9,2391.2 L1632.9,2391.0" fill="none" stroke="#98FF6A" stroke-width="4.5" stroke-linejoin="round" stroke-linecap="round"/>
<path d="M291.0,2624.9 L297.0,2624.6 L303.0,2624.2 L309.1,2623.9 L315.1,2623.5 L321.1,2623.0 L327.1,2622.6 L333.1,2622.0 L339.1,2621.5 L345.2,2620.9 L351.2,2620.3 L357.2,2619.7 L363.2,2619.0 L369.2,2618.3 L375.2,2617.6 L381.3,2616.8 L387.3,2616.0 L393.3,2615.2 L399.3,2614.4 L405.3,2613.5 L411.3,2612.6 L417.4,2611.7 L423.4,2610.7 L429.4,2609.8 L435.4,2608.8 L441.4,2607.7 L447.5,2606.7 L453.5,2605.6 L459.5,2604.5 L465.5,2603.4 L471.5,2602.3 L477.5,2601.1 L483.6,2600.0 L489.6,2598.8 L495.6,2597.6 L501.6,2596.3 L507.6,2595.1 L513.6,2593.8 L519.7,2592.5 L525.7,2591.2 L531.7,2589.9 L537.7,2588.6 L543.7,2587.3 L549.8,2585.9 L555.8,2584.5 L561.8,2583.1 L567.8,2581.8 L573.8,2580.3 L579.8,2578.9 L585.9,2577.5 L591.9,2576.1 L597.9,2574.6 L603.9,2573.2 L609.9,2571.7 L615.9,2570.2 L622.0,2568.8 L628.0,2567.3 L634.0,2565.8 L640.0,2564.3 L646.0,2562.8 L652.0,2561.3 L658.1,2559.8 L664.1,2558.3 L670.1,2556.7 L676.1,2555.2 L682.1,2553.7 L688.2,2552.2 L694.2,2550.7 L700.2,2549.2 L706.2,2547.6 L712.2,2546.1 L718.2,2544.6 L724.3,2543.1 L730.3,2541.6 L736.3,2540.1 L742.3,2538.6 L748.3,2537.1 L754.3,2535.6 L760.4,2534.1 L766.4,2532.6 L772.4,2531.1 L778.4,2529.7 L784.4,2528.2 L790.5,2526.7 L796.5,2525.3 L802.5,2523.8 L808.5,2522.4 L814.5,2520.9 L820.5,2519.5 L826.6,2518.1 L832.6,2516.7 L838.6,2515.3 L844.6,2513.9 L850.6,2512.5 L856.6,2511.1 L862.7,2509.8 L868.7,2508.4 L874.7,2507.1 L880.7,2505.8 L886.7,2504.4 L892.7,2503.1 L898.8,2501.8 L904.8,2500.5 L910.8,2499.3 L916.8,2498.0 L922.8,2496.7 L928.9,2495.5 L934.9,2494.3 L940.9,2493.0 L946.9,2491.8 L952.9,2490.6 L958.9,2489.4 L965.0,2488.3 L971.0,2487.1 L977.0,2485.9 L983.0,2484.8 L989.0,2483.6 L995.0,2482.5 L1001.1,2481.4 L1007.1,2480.3 L1013.1,2479.2 L1019.1,2478.1 L1025.1,2477.0 L1031.2,2476.0 L1037.2,2474.9 L1043.2,2473.9 L1049.2,2472.8 L1055.2,2471.8 L1061.2,2470.8 L1067.3,2469.8 L1073.3,2468.8 L1079.3,2467.8 L1085.3,2466.9 L1091.3,2465.9 L1097.3,2465.0 L1103.4,2464.0 L1109.4,2463.1 L1115.4,2462.2 L1121.4,2461.3 L1127.4,2460.4 L1133.4,2459.5 L1139.5,2458.7 L1145.5,2457.8 L1151.5,2457.0 L1157.5,2456.1 L1163.5,2455.3 L1169.6,2454.5 L1175.6,2453.7 L1181.6,2452.9 L1187.6,2452.1 L1193.6,2451.4 L1199.6,2450.6 L1205.7,2449.9 L1211.7,2449.1 L1217.7,2448.4 L1223.7,2447.7 L1229.7,2447.0 L1235.7,2446.3 L1241.8,2445.6 L1247.8,2445.0 L1253.8,2444.3 L1259.8,2443.7 L1265.8,2443.0 L1271.9,2442.4 L1277.9,2441.8 L1283.9,2441.2 L1289.9,2440.6 L1295.9,2440.0 L1301.9,2439.5 L1308.0,2438.9 L1314.0,2438.3 L1320.0,2437.8 L1326.0,2437.3 L1332.0,2436.7 L1338.0,2436.2 L1344.1,2435.7 L1350.1,2435.2 L1356.1,2434.8 L1362.1,2434.3 L1368.1,2433.8 L1374.1,2433.4 L1380.2,2432.9 L1386.2,2432.5 L1392.2,2432.0 L1398.2,2431.6 L1404.2,2431.2 L1410.3,2430.8 L1416.3,2430.4 L1422.3,2430.0 L1428.3,2429.6 L1434.3,2429.2 L1440.3,2428.8 L1446.4,2428.5 L1452.4,2428.1 L1458.4,2427.8 L1464.4,2427.4 L1470.4,2427.1 L1476.4,2426.8 L1482.5,2426.4 L1488.5,2426.1 L1494.5,2425.8 L1500.5,2425.5 L1506.5,2425.2 L1512.6,2424.9 L1518.6,2424.6 L1524.6,2424.3 L1530.6,2424.1 L1536.6,2423.8 L1542.6,2423.5 L1548.7,2423.3 L1554.7,2423.0 L1560.7,2422.8 L1566.7,2422.5 L1572.7,2422.3 L1578.7,2422.0 L1584.8,2421.8 L1590.8,2421.6 L1596.8,2421.3 L1602.8,2421.1 L1608.8,2420.9 L1614.8,2420.7 L1620.9,2420.5 L1626.9,2420.3 L1632.9,2420.0" fill="none" stroke="#00FFBB" stroke-width="4.5" stroke-linejoin="round" stroke-linecap="round"/>
<path d="M291.0,2628.5 L297.0,2628.4 L303.0,2628.3 L309.1,2628.2 L315.1,2628.1 L321.1,2628.0 L327.1,2627.8 L333.1,2627.7 L339.1,2627.5 L345.2,2627.3 L351.2,2627.2 L357.2,2627.0 L363.2,2626.7 L369.2,2626.5 L375.2,2626.3 L381.3,2626.1 L387.3,2625.8 L393.3,2625.6 L399.3,2625.3 L405.3,2625.0 L411.3,2624.7 L417.4,2624.5 L423.4,2624.2 L429.4,2623.8 L435.4,2623.5 L441.4,2623.2 L447.5,2622.9 L453.5,2622.5 L459.5,2622.1 L465.5,2621.8 L471.5,2621.4 L477.5,2621.0 L483.6,2620.6 L489.6,2620.2 L495.6,2619.8 L501.6,2619.4 L507.6,2619.0 L513.6,2618.6 L519.7,2618.1 L525.7,2617.7 L531.7,2617.2 L537.7,2616.8 L543.7,2616.3 L549.8,2615.8 L555.8,2615.3 L561.8,2614.8 L567.8,2614.3 L573.8,2613.8 L579.8,2613.3 L585.9,2612.8 L591.9,2612.3 L597.9,2611.7 L603.9,2611.2 L609.9,2610.7 L615.9,2610.1 L622.0,2609.5 L628.0,2609.0 L634.0,2608.4 L640.0,2607.8 L646.0,2607.2 L652.0,2606.7 L658.1,2606.1 L664.1,2605.5 L670.1,2604.9 L676.1,2604.2 L682.1,2603.6 L688.2,2603.0 L694.2,2602.4 L700.2,2601.7 L706.2,2601.1 L712.2,2600.5 L718.2,2599.8 L724.3,2599.2 L730.3,2598.5 L736.3,2597.8 L742.3,2597.2 L748.3,2596.5 L754.3,2595.8 L760.4,2595.1 L766.4,2594.5 L772.4,2593.8 L778.4,2593.1 L784.4,2592.4 L790.5,2591.7 L796.5,2591.0 L802.5,2590.3 L808.5,2589.6 L814.5,2588.8 L820.5,2588.1 L826.6,2587.4 L832.6,2586.7 L838.6,2585.9 L844.6,2585.2 L850.6,2584.5 L856.6,2583.7 L862.7,2583.0 L868.7,2582.3 L874.7,2581.5 L880.7,2580.8 L886.7,2580.0 L892.7,2579.3 L898.8,2578.5 L904.8,2577.7 L910.8,2577.0 L916.8,2576.2 L922.8,2575.5 L928.9,2574.7 L934.9,2573.9 L940.9,2573.2 L946.9,2572.4 L952.9,2571.6 L958.9,2570.8 L965.0,2570.1 L971.0,2569.3 L977.0,2568.5 L983.0,2567.7 L989.0,2567.0 L995.0,2566.2 L1001.1,2565.4 L1007.1,2564.6 L1013.1,2563.8 L1019.1,2563.1 L1025.1,2562.3 L1031.2,2561.5 L1037.2,2560.7 L1043.2,2559.9 L1049.2,2559.1 L1055.2,2558.4 L1061.2,2557.6 L1067.3,2556.8 L1073.3,2556.0 L1079.3,2555.2 L1085.3,2554.4 L1091.3,2553.7 L1097.3,2552.9 L1103.4,2552.1 L1109.4,2551.3 L1115.4,2550.5 L1121.4,2549.8 L1127.4,2549.0 L1133.4,2548.2 L1139.5,2547.4 L1145.5,2546.7 L1151.5,2545.9 L1157.5,2545.1 L1163.5,2544.4 L1169.6,2543.6 L1175.6,2542.8 L1181.6,2542.1 L1187.6,2541.3 L1193.6,2540.6 L1199.6,2539.8 L1205.7,2539.0 L1211.7,2538.3 L1217.7,2537.5 L1223.7,2536.8 L1229.7,2536.1 L1235.7,2535.3 L1241.8,2534.6 L1247.8,2533.8 L1253.8,2533.1 L1259.8,2532.4 L1265.8,2531.7 L1271.9,2530.9 L1277.9,2530.2 L1283.9,2529.5 L1289.9,2528.8 L1295.9,2528.1 L1301.9,2527.4 L1308.0,2526.7 L1314.0,2526.0 L1320.0,2525.3 L1326.0,2524.6 L1332.0,2523.9 L1338.0,2523.2 L1344.1,2522.5 L1350.1,2521.9 L1356.1,2521.2 L1362.1,2520.5 L1368.1,2519.9 L1374.1,2519.2 L1380.2,2518.6 L1386.2,2517.9 L1392.2,2517.3 L1398.2,2516.7 L1404.2,2516.0 L1410.3,2515.4 L1416.3,2514.8 L1422.3,2514.2 L1428.3,2513.6 L1434.3,2513.0 L1440.3,2512.4 L1446.4,2511.8 L1452.4,2511.2 L1458.4,2510.6 L1464.4,2510.0 L1470.4,2509.5 L1476.4,2508.9 L1482.5,2508.4 L1488.5,2507.8 L1494.5,2507.3 L1500.5,2506.7 L1506.5,2506.2 L1512.6,2505.7 L1518.6,2505.2 L1524.6,2504.7 L1530.6,2504.2 L1536.6,2503.7 L1542.6,2503.2 L1548.7,2502.7 L1554.7,2502.2 L1560.7,2501.8 L1566.7,2501.3 L1572.7,2500.9 L1578.7,2500.4 L1584.8,2500.0 L1590.8,2499.6 L1596.8,2499.2 L1602.8,2498.7 L1608.8,2498.3 L1614.8,2498.0 L1620.9,2497.6 L1626.9,2497.2 L1632.9,2496.8" fill="none" stroke="#00D0FF" stroke-width="4.5" stroke-linejoin="round" stroke-linecap="round"/>
<path d="M291.0,2628.8 L297.0,2628.9 L303.0,2629.0 L309.1,2629.1 L315.1,2629.2 L321.1,2629.3 L327.1,2629.3 L333.1,2629.4 L339.1,2629.4 L345.2,2629.5 L351.2,2629.5 L357.2,2629.6 L363.2,2629.6 L369.2,2629.6 L375.2,2629.6 L381.3,2629.6 L387.3,2629.6 L393.3,2629.6 L399.3,2629.6 L405.3,2629.5 L411.3,2629.5 L417.4,2629.5 L423.4,2629.4 L429.4,2629.4 L435.4,2629.3 L441.4,2629.2 L447.5,2629.2 L453.5,2629.1 L459.5,2629.0 L465.5,2628.9 L471.5,2628.8 L477.5,2628.7 L483.6,2628.6 L489.6,2628.5 L495.6,2628.4 L501.6,2628.2 L507.6,2628.1 L513.6,2627.9 L519.7,2627.8 L525.7,2627.6 L531.7,2627.5 L537.7,2627.3 L543.7,2627.2 L549.8,2627.0 L555.8,2626.8 L561.8,2626.6 L567.8,2626.4 L573.8,2626.2 L579.8,2626.0 L585.9,2625.8 L591.9,2625.6 L597.9,2625.4 L603.9,2625.1 L609.9,2624.9 L615.9,2624.7 L622.0,2624.4 L628.0,2624.2 L634.0,2623.9 L640.0,2623.7 L646.0,2623.4 L652.0,2623.1 L658.1,2622.9 L664.1,2622.6 L670.1,2622.3 L676.1,2622.0 L682.1,2621.7 L688.2,2621.4 L694.2,2621.1 L700.2,2620.8 L706.2,2620.5 L712.2,2620.2 L718.2,2619.9 L724.3,2619.5 L730.3,2619.2 L736.3,2618.9 L742.3,2618.5 L748.3,2618.2 L754.3,2617.9 L760.4,2617.5 L766.4,2617.2 L772.4,2616.8 L778.4,2616.4 L784.4,2616.1 L790.5,2615.7 L796.5,2615.3 L802.5,2615.0 L808.5,2614.6 L814.5,2614.2 L820.5,2613.8 L826.6,2613.4 L832.6,2613.0 L838.6,2612.6 L844.6,2612.2 L850.6,2611.8 L856.6,2611.4 L862.7,2611.0 L868.7,2610.6 L874.7,2610.2 L880.7,2609.7 L886.7,2609.3 L892.7,2608.9 L898.8,2608.4 L904.8,2608.0 L910.8,2607.6 L916.8,2607.1 L922.8,2606.7 L928.9,2606.2 L934.9,2605.8 L940.9,2605.3 L946.9,2604.9 L952.9,2604.4 L958.9,2604.0 L965.0,2603.5 L971.0,2603.0 L977.0,2602.6 L983.0,2602.1 L989.0,2601.6 L995.0,2601.2 L1001.1,2600.7 L1007.1,2600.2 L1013.1,2599.7 L1019.1,2599.2 L1025.1,2598.8 L1031.2,2598.3 L1037.2,2597.8 L1043.2,2597.3 L1049.2,2596.8 L1055.2,2596.3 L1061.2,2595.8 L1067.3,2595.3 L1073.3,2594.8 L1079.3,2594.3 L1085.3,2593.8 L1091.3,2593.3 L1097.3,2592.8 L1103.4,2592.3 L1109.4,2591.8 L1115.4,2591.3 L1121.4,2590.8 L1127.4,2590.2 L1133.4,2589.7 L1139.5,2589.2 L1145.5,2588.7 L1151.5,2588.2 L1157.5,2587.7 L1163.5,2587.1 L1169.6,2586.6 L1175.6,2586.1 L1181.6,2585.6 L1187.6,2585.0 L1193.6,2584.5 L1199.6,2584.0 L1205.7,2583.5 L1211.7,2582.9 L1217.7,2582.4 L1223.7,2581.9 L1229.7,2581.4 L1235.7,2580.8 L1241.8,2580.3 L1247.8,2579.8 L1253.8,2579.2 L1259.8,2578.7 L1265.8,2578.2 L1271.9,2577.7 L1277.9,2577.1 L1283.9,2576.6 L1289.9,2576.1 L1295.9,2575.5 L1301.9,2575.0 L1308.0,2574.5 L1314.0,2573.9 L1320.0,2573.4 L1326.0,2572.9 L1332.0,2572.3 L1338.0,2571.8 L1344.1,2571.3 L1350.1,2570.8 L1356.1,2570.2 L1362.1,2569.7 L1368.1,2569.2 L1374.1,2568.6 L1380.2,2568.1 L1386.2,2567.6 L1392.2,2567.1 L1398.2,2566.5 L1404.2,2566.0 L1410.3,2565.5 L1416.3,2565.0 L1422.3,2564.5 L1428.3,2563.9 L1434.3,2563.4 L1440.3,2562.9 L1446.4,2562.4 L1452.4,2561.9 L1458.4,2561.4 L1464.4,2560.9 L1470.4,2560.3 L1476.4,2559.8 L1482.5,2559.3 L1488.5,2558.8 L1494.5,2558.3 L1500.5,2557.8 L1506.5,2557.3 L1512.6,2556.8 L1518.6,2556.3 L1524.6,2555.8 L1530.6,2555.3 L1536.6,2554.8 L1542.6,2554.3 L1548.7,2553.8 L1554.7,2553.4 L1560.7,2552.9 L1566.7,2552.4 L1572.7,2551.9 L1578.7,2551.4 L1584.8,2551.0 L1590.8,2550.5 L1596.8,2550.0 L1602.8,2549.5 L1608.8,2549.1 L1614.8,2548.6 L1620.9,2548.2 L1626.9,2547.7 L1632.9,2547.2" fill="none" stroke="#7272FF" stroke-width="4.5" stroke-linejoin="round" stroke-linecap="round"/>
<text class="t" transform="translate(310,133) scale(1,1.03)">LA concentration [µM]</text>
<path d="M317.5,180.8 H431.6" stroke="#FFA676" stroke-width="4.5"/>
<text class="t" x="455" y="199">100</text>
<path d="M317.5,247.1 H431.6" stroke="#FFD070" stroke-width="4.5"/>
<text class="t" x="455" y="265">50</text>
<path d="M317.5,312.4 H431.6" stroke="#98FF6A" stroke-width="4.5"/>
<text class="t" x="455" y="330">25</text>
<path d="M317.5,378.3 H431.6" stroke="#00FFBB" stroke-width="4.5"/>
<text class="t" x="455" y="396">20</text>
<path d="M317.5,444.3 H431.6" stroke="#00D0FF" stroke-width="4.5"/>
<text class="t" x="455" y="461">10</text>
<path d="M317.5,510.3 H431.6" stroke="#7272FF" stroke-width="4.5"/>
<text class="t" x="455" y="527">5</text>
<text class="h" transform="translate(631,283.5) scale(1,1.035)" style="letter-spacing:0.37px">A. WT SLO</text>
<text class="h" transform="translate(515,1175.5) scale(1,1.035)">B. L546S</text>
<text class="h" transform="translate(539.5,2134) scale(1,1.035)">C. L546C</text>
<text class="ax" transform="translate(846.5,2901.5) scale(1,1.04)" style="letter-spacing:0.8px">Time (s)</text>
<text class="ax" transform="translate(74.4,1367) rotate(-90) scale(1,1.05)" text-anchor="middle">Absorbance (234 nm)</text>
</svg>
</body></html>
